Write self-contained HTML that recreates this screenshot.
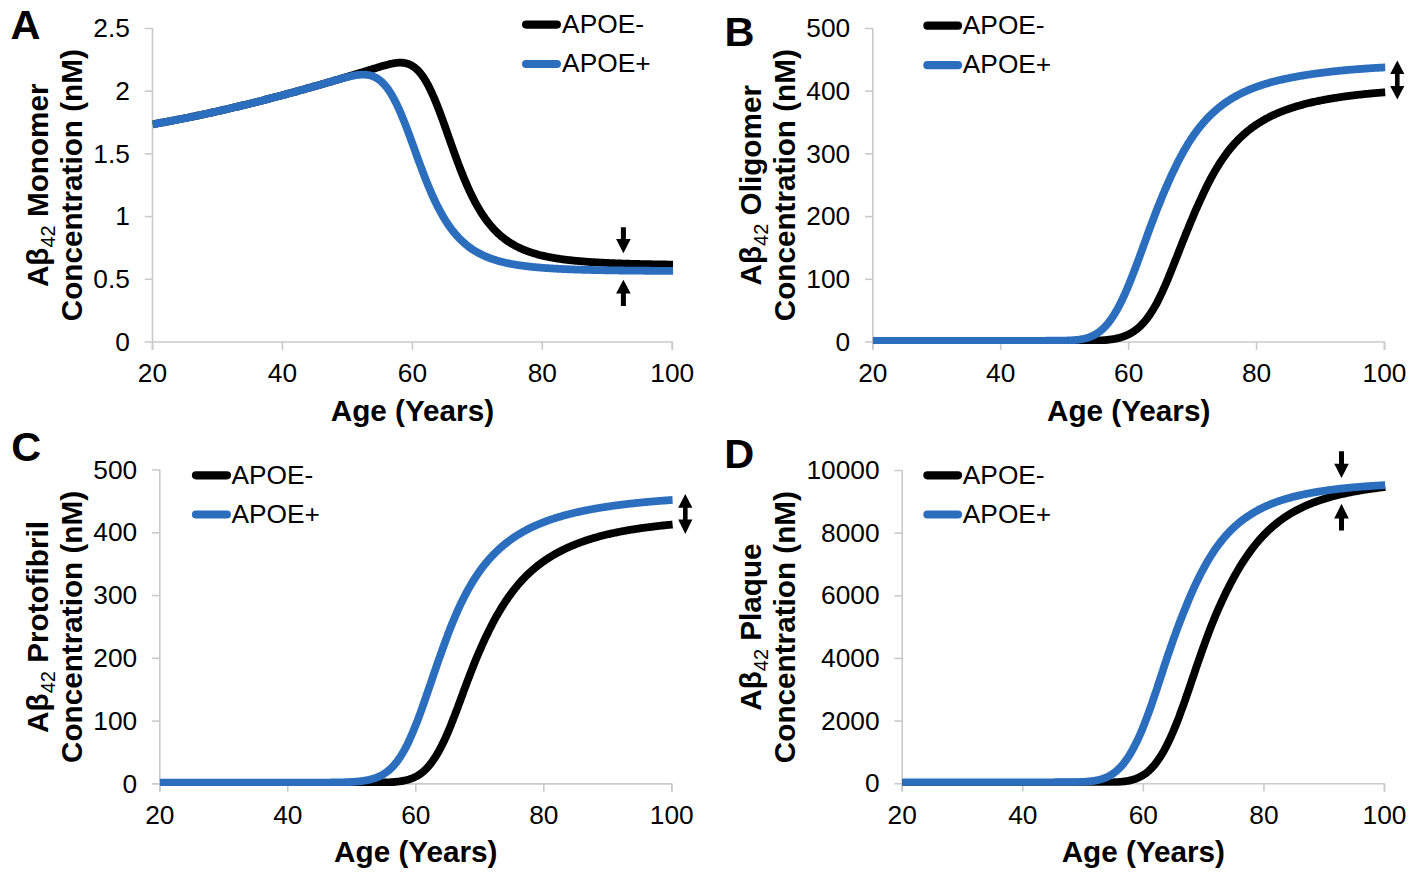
<!DOCTYPE html><html><head><meta charset="utf-8"><style>html,body{margin:0;padding:0;background:#fff;}svg{display:block;}</style></head><body>
<svg width="1417" height="880" viewBox="0 0 1417 880" font-family='"Liberation Sans", sans-serif'>
<rect width="1417" height="880" fill="#fff"/>
<clipPath id="clipA"><rect x="152.50" y="18.50" width="521.00" height="325.50"/></clipPath>
<clipPath id="clipB"><rect x="872.80" y="18.50" width="512.90" height="325.50"/></clipPath>
<clipPath id="clipC"><rect x="159.80" y="460.00" width="513.20" height="325.90"/></clipPath>
<clipPath id="clipD"><rect x="902.20" y="460.50" width="483.50" height="325.20"/></clipPath>
<g stroke="#CACACA" stroke-width="1.6" fill="none" stroke-linejoin="round">
<path d="M144.70,28.50 L152.50,28.50 L152.50,349.80"/>
<path d="M144.70,279.30 L152.50,279.30"/>
<path d="M144.70,216.60 L152.50,216.60"/>
<path d="M144.70,153.90 L152.50,153.90"/>
<path d="M144.70,91.20 L152.50,91.20"/>
<path d="M144.70,342.00 L672.30,342.00"/>
<path d="M152.50,349.80 L152.50,342.00 L152.50,342.00"/>
<path d="M282.45,342.00 L282.45,349.80"/>
<path d="M412.40,342.00 L412.40,349.80"/>
<path d="M542.35,342.00 L542.35,349.80"/>
<path d="M672.30,342.00 L672.30,349.80"/>
<path d="M672.29,342.00 L672.30,342.00 L672.30,349.80"/>
</g>
<g font-size="26.3" fill="#000" text-anchor="end">
<text x="129.90" y="350.60">0</text>
<text x="129.90" y="287.90">0.5</text>
<text x="129.90" y="225.20">1</text>
<text x="129.90" y="162.50">1.5</text>
<text x="129.90" y="99.80">2</text>
<text x="129.90" y="37.10">2.5</text>
</g>
<g font-size="26.3" fill="#000" text-anchor="middle">
<text x="152.50" y="382.00">20</text>
<text x="282.45" y="382.00">40</text>
<text x="412.40" y="382.00">60</text>
<text x="542.35" y="382.00">80</text>
<text x="672.30" y="382.00">100</text>
</g>
<text x="412.40" y="420.50" font-size="29.7" font-weight="bold" text-anchor="middle">Age (Years)</text>
<g clip-path="url(#clipA)" fill="none" stroke-width="7.8" stroke-linejoin="round" stroke-linecap="butt">
<path stroke="#000" d="M152.5,124.30 L153.5,124.13 L154.5,123.95 L155.5,123.78 L156.5,123.60 L157.5,123.42 L158.5,123.24 L159.5,123.06 L160.5,122.88 L161.5,122.70 L162.5,122.52 L163.5,122.34 L164.5,122.15 L165.5,121.97 L166.5,121.78 L167.5,121.60 L168.5,121.41 L169.5,121.22 L170.5,121.03 L171.5,120.84 L172.5,120.65 L173.5,120.46 L174.5,120.27 L175.5,120.07 L176.5,119.88 L177.5,119.69 L178.5,119.49 L179.5,119.29 L180.5,119.10 L181.5,118.90 L182.5,118.70 L183.5,118.50 L184.5,118.30 L185.5,118.10 L186.5,117.90 L187.5,117.70 L188.5,117.49 L189.5,117.29 L190.5,117.08 L191.5,116.88 L192.5,116.67 L193.5,116.46 L194.5,116.25 L195.5,116.05 L196.5,115.84 L197.5,115.63 L198.5,115.41 L199.5,115.20 L200.5,114.99 L201.5,114.78 L202.5,114.56 L203.5,114.35 L204.5,114.13 L205.5,113.91 L206.5,113.70 L207.5,113.48 L208.5,113.26 L209.5,113.04 L210.5,112.82 L211.5,112.60 L212.5,112.38 L213.5,112.16 L214.5,111.93 L215.5,111.71 L216.5,111.48 L217.5,111.26 L218.5,111.03 L219.5,110.81 L220.5,110.58 L221.5,110.35 L222.5,110.12 L223.5,109.89 L224.5,109.66 L225.5,109.43 L226.5,109.20 L227.5,108.97 L228.5,108.73 L229.5,108.50 L230.5,108.27 L231.5,108.03 L232.5,107.80 L233.5,107.56 L234.5,107.32 L235.5,107.08 L236.5,106.85 L237.5,106.61 L238.5,106.37 L239.5,106.13 L240.5,105.88 L241.5,105.64 L242.5,105.40 L243.5,105.16 L244.5,104.91 L245.5,104.67 L246.5,104.42 L247.5,104.18 L248.5,103.93 L249.5,103.68 L250.5,103.44 L251.5,103.19 L252.5,102.94 L253.5,102.69 L254.5,102.44 L255.5,102.19 L256.5,101.94 L257.5,101.68 L258.5,101.43 L259.5,101.18 L260.5,100.92 L261.5,100.67 L262.5,100.41 L263.5,100.16 L264.5,99.90 L265.5,99.64 L266.5,99.39 L267.5,99.13 L268.5,98.87 L269.5,98.61 L270.5,98.35 L271.5,98.09 L272.5,97.83 L273.5,97.57 L274.5,97.30 L275.5,97.04 L276.5,96.78 L277.5,96.51 L278.5,96.25 L279.5,95.98 L280.5,95.72 L281.5,95.45 L282.5,95.18 L283.5,94.91 L284.5,94.65 L285.5,94.38 L286.5,94.11 L287.5,93.84 L288.5,93.57 L289.5,93.30 L290.5,93.03 L291.5,92.75 L292.5,92.48 L293.5,92.21 L294.5,91.93 L295.5,91.66 L296.5,91.38 L297.5,91.11 L298.5,90.83 L299.5,90.56 L300.5,90.28 L301.5,90.00 L302.5,89.72 L303.5,89.45 L304.5,89.17 L305.5,88.89 L306.5,88.61 L307.5,88.33 L308.5,88.04 L309.5,87.76 L310.5,87.48 L311.5,87.20 L312.5,86.91 L313.5,86.63 L314.5,86.35 L315.5,86.06 L316.5,85.78 L317.5,85.49 L318.5,85.21 L319.5,84.92 L320.5,84.63 L321.5,84.34 L322.5,84.06 L323.5,83.77 L324.5,83.48 L325.5,83.19 L326.5,82.90 L327.5,82.61 L328.5,82.32 L329.5,82.03 L330.5,81.74 L331.5,81.44 L332.5,81.15 L333.5,80.86 L334.5,80.56 L335.5,80.27 L336.5,79.97 L337.5,79.68 L338.5,79.38 L339.5,79.09 L340.5,78.79 L341.5,78.50 L342.5,78.20 L343.5,77.90 L344.5,77.60 L345.5,77.30 L346.5,77.01 L347.5,76.71 L348.5,76.41 L349.5,76.11 L350.5,75.81 L351.5,75.51 L352.5,75.20 L353.5,74.90 L354.5,74.60 L355.5,74.30 L356.5,74.00 L357.5,73.69 L358.5,73.39 L359.5,73.08 L360.5,72.78 L361.5,72.47 L362.5,72.17 L363.5,71.86 L364.5,71.56 L365.5,71.25 L366.5,70.94 L367.5,70.64 L368.5,70.33 L369.5,70.02 L370.5,69.71 L371.5,69.41 L372.5,69.10 L373.5,68.79 L374.5,68.48 L375.5,68.17 L376.5,67.86 L377.5,67.56 L378.5,67.25 L379.5,66.95 L380.5,66.64 L381.5,66.35 L382.5,66.05 L383.5,65.76 L384.5,65.47 L385.5,65.19 L386.5,64.92 L387.5,64.66 L388.5,64.40 L389.5,64.16 L390.5,63.92 L391.5,63.71 L392.5,63.50 L393.5,63.32 L394.5,63.15 L395.5,63.00 L396.5,62.88 L397.5,62.78 L398.5,62.71 L399.5,62.66 L400.5,62.65 L401.5,62.68 L402.5,62.74 L403.5,62.84 L404.5,62.99 L405.5,63.18 L406.5,63.41 L407.5,63.70 L408.5,64.05 L409.5,64.45 L410.5,64.90 L411.5,65.43 L412.5,66.01 L413.5,66.67 L414.5,67.40 L415.5,68.19 L416.5,69.07 L417.5,70.02 L418.5,71.05 L419.5,72.16 L420.5,73.36 L421.5,74.63 L422.5,76.00 L423.5,77.45 L424.5,78.98 L425.5,80.60 L426.5,82.30 L427.5,84.09 L428.5,85.96 L429.5,87.92 L430.5,89.95 L431.5,92.07 L432.5,94.26 L433.5,96.52 L434.5,98.85 L435.5,101.24 L436.5,103.70 L437.5,106.22 L438.5,108.79 L439.5,111.41 L440.5,114.08 L441.5,116.78 L442.5,119.52 L443.5,122.29 L444.5,125.09 L445.5,127.91 L446.5,130.74 L447.5,133.58 L448.5,136.43 L449.5,139.27 L450.5,142.12 L451.5,144.96 L452.5,147.78 L453.5,150.59 L454.5,153.37 L455.5,156.14 L456.5,158.87 L457.5,161.58 L458.5,164.25 L459.5,166.88 L460.5,169.48 L461.5,172.04 L462.5,174.55 L463.5,177.02 L464.5,179.44 L465.5,181.82 L466.5,184.15 L467.5,186.43 L468.5,188.66 L469.5,190.84 L470.5,192.96 L471.5,195.04 L472.5,197.07 L473.5,199.04 L474.5,200.97 L475.5,202.84 L476.5,204.67 L477.5,206.44 L478.5,208.17 L479.5,209.85 L480.5,211.48 L481.5,213.07 L482.5,214.61 L483.5,216.10 L484.5,217.55 L485.5,218.96 L486.5,220.32 L487.5,221.64 L488.5,222.93 L489.5,224.17 L490.5,225.38 L491.5,226.55 L492.5,227.68 L493.5,228.78 L494.5,229.84 L495.5,230.87 L496.5,231.87 L497.5,232.84 L498.5,233.77 L499.5,234.68 L500.5,235.56 L501.5,236.41 L502.5,237.23 L503.5,238.03 L504.5,238.80 L505.5,239.55 L506.5,240.27 L507.5,240.97 L508.5,241.65 L509.5,242.31 L510.5,242.95 L511.5,243.57 L512.5,244.16 L513.5,244.74 L514.5,245.30 L515.5,245.85 L516.5,246.37 L517.5,246.88 L518.5,247.38 L519.5,247.86 L520.5,248.32 L521.5,248.77 L522.5,249.21 L523.5,249.63 L524.5,250.04 L525.5,250.44 L526.5,250.83 L527.5,251.20 L528.5,251.57 L529.5,251.92 L530.5,252.26 L531.5,252.59 L532.5,252.91 L533.5,253.23 L534.5,253.53 L535.5,253.82 L536.5,254.11 L537.5,254.39 L538.5,254.65 L539.5,254.92 L540.5,255.17 L541.5,255.42 L542.5,255.66 L543.5,255.89 L544.5,256.12 L545.5,256.34 L546.5,256.55 L547.5,256.76 L548.5,256.96 L549.5,257.16 L550.5,257.35 L551.5,257.53 L552.5,257.71 L553.5,257.89 L554.5,258.06 L555.5,258.23 L556.5,258.39 L557.5,258.55 L558.5,258.70 L559.5,258.85 L560.5,258.99 L561.5,259.14 L562.5,259.27 L563.5,259.41 L564.5,259.54 L565.5,259.67 L566.5,259.79 L567.5,259.91 L568.5,260.03 L569.5,260.14 L570.5,260.25 L571.5,260.36 L572.5,260.47 L573.5,260.57 L574.5,260.67 L575.5,260.77 L576.5,260.87 L577.5,260.96 L578.5,261.05 L579.5,261.14 L580.5,261.23 L581.5,261.32 L582.5,261.40 L583.5,261.48 L584.5,261.56 L585.5,261.63 L586.5,261.71 L587.5,261.78 L588.5,261.86 L589.5,261.93 L590.5,261.99 L591.5,262.06 L592.5,262.13 L593.5,262.19 L594.5,262.25 L595.5,262.31 L596.5,262.37 L597.5,262.43 L598.5,262.49 L599.5,262.54 L600.5,262.60 L601.5,262.65 L602.5,262.70 L603.5,262.75 L604.5,262.80 L605.5,262.85 L606.5,262.90 L607.5,262.94 L608.5,262.99 L609.5,263.03 L610.5,263.08 L611.5,263.12 L612.5,263.16 L613.5,263.20 L614.5,263.24 L615.5,263.28 L616.5,263.32 L617.5,263.36 L618.5,263.39 L619.5,263.43 L620.5,263.47 L621.5,263.50 L622.5,263.53 L623.5,263.57 L624.5,263.60 L625.5,263.63 L626.5,263.66 L627.5,263.69 L628.5,263.72 L629.5,263.75 L630.5,263.78 L631.5,263.81 L632.5,263.84 L633.5,263.86 L634.5,263.89 L635.5,263.92 L636.5,263.94 L637.5,263.97 L638.5,263.99 L639.5,264.01 L640.5,264.04 L641.5,264.06 L642.5,264.08 L643.5,264.11 L644.5,264.13 L645.5,264.15 L646.5,264.17 L647.5,264.19 L648.5,264.21 L649.5,264.23 L650.5,264.25 L651.5,264.27 L652.5,264.29 L653.5,264.31 L654.5,264.32 L655.5,264.34 L656.5,264.36 L657.5,264.38 L658.5,264.39 L659.5,264.41 L660.5,264.43 L661.5,264.44 L662.5,264.46 L663.5,264.47 L664.5,264.49 L665.5,264.50 L666.5,264.52 L667.5,264.53 L668.5,264.54 L669.5,264.56 L670.5,264.57 L671.5,264.59 L672.5,264.60 L673.1,264.61"/>
<path stroke="#2C6EBE" d="M152.5,124.30 L153.5,124.13 L154.5,123.95 L155.5,123.78 L156.5,123.60 L157.5,123.42 L158.5,123.24 L159.5,123.06 L160.5,122.88 L161.5,122.70 L162.5,122.52 L163.5,122.34 L164.5,122.15 L165.5,121.97 L166.5,121.78 L167.5,121.60 L168.5,121.41 L169.5,121.22 L170.5,121.03 L171.5,120.84 L172.5,120.65 L173.5,120.46 L174.5,120.27 L175.5,120.07 L176.5,119.88 L177.5,119.69 L178.5,119.49 L179.5,119.29 L180.5,119.10 L181.5,118.90 L182.5,118.70 L183.5,118.50 L184.5,118.30 L185.5,118.10 L186.5,117.90 L187.5,117.70 L188.5,117.49 L189.5,117.29 L190.5,117.08 L191.5,116.88 L192.5,116.67 L193.5,116.46 L194.5,116.25 L195.5,116.05 L196.5,115.84 L197.5,115.63 L198.5,115.41 L199.5,115.20 L200.5,114.99 L201.5,114.78 L202.5,114.56 L203.5,114.35 L204.5,114.13 L205.5,113.91 L206.5,113.70 L207.5,113.48 L208.5,113.26 L209.5,113.04 L210.5,112.82 L211.5,112.60 L212.5,112.38 L213.5,112.16 L214.5,111.93 L215.5,111.71 L216.5,111.48 L217.5,111.26 L218.5,111.03 L219.5,110.81 L220.5,110.58 L221.5,110.35 L222.5,110.12 L223.5,109.89 L224.5,109.66 L225.5,109.43 L226.5,109.20 L227.5,108.97 L228.5,108.73 L229.5,108.50 L230.5,108.27 L231.5,108.03 L232.5,107.80 L233.5,107.56 L234.5,107.32 L235.5,107.08 L236.5,106.85 L237.5,106.61 L238.5,106.37 L239.5,106.13 L240.5,105.88 L241.5,105.64 L242.5,105.40 L243.5,105.16 L244.5,104.91 L245.5,104.67 L246.5,104.42 L247.5,104.18 L248.5,103.93 L249.5,103.68 L250.5,103.44 L251.5,103.19 L252.5,102.94 L253.5,102.69 L254.5,102.44 L255.5,102.19 L256.5,101.94 L257.5,101.68 L258.5,101.43 L259.5,101.18 L260.5,100.92 L261.5,100.67 L262.5,100.41 L263.5,100.16 L264.5,99.90 L265.5,99.64 L266.5,99.39 L267.5,99.13 L268.5,98.87 L269.5,98.61 L270.5,98.35 L271.5,98.09 L272.5,97.83 L273.5,97.57 L274.5,97.30 L275.5,97.04 L276.5,96.78 L277.5,96.51 L278.5,96.25 L279.5,95.98 L280.5,95.72 L281.5,95.45 L282.5,95.18 L283.5,94.91 L284.5,94.65 L285.5,94.38 L286.5,94.11 L287.5,93.84 L288.5,93.57 L289.5,93.30 L290.5,93.03 L291.5,92.75 L292.5,92.48 L293.5,92.21 L294.5,91.93 L295.5,91.66 L296.5,91.38 L297.5,91.11 L298.5,90.83 L299.5,90.56 L300.5,90.28 L301.5,90.00 L302.5,89.72 L303.5,89.45 L304.5,89.17 L305.5,88.89 L306.5,88.61 L307.5,88.33 L308.5,88.04 L309.5,87.76 L310.5,87.48 L311.5,87.20 L312.5,86.91 L313.5,86.63 L314.5,86.35 L315.5,86.06 L316.5,85.78 L317.5,85.49 L318.5,85.21 L319.5,84.92 L320.5,84.63 L321.5,84.34 L322.5,84.06 L323.5,83.77 L324.5,83.48 L325.5,83.19 L326.5,82.90 L327.5,82.61 L328.5,82.32 L329.5,82.03 L330.5,81.74 L331.5,81.45 L332.5,81.16 L333.5,80.87 L334.5,80.58 L335.5,80.29 L336.5,80.00 L337.5,79.71 L338.5,79.43 L339.5,79.14 L340.5,78.86 L341.5,78.58 L342.5,78.30 L343.5,78.03 L344.5,77.76 L345.5,77.50 L346.5,77.24 L347.5,76.98 L348.5,76.74 L349.5,76.50 L350.5,76.27 L351.5,76.05 L352.5,75.84 L353.5,75.64 L354.5,75.45 L355.5,75.28 L356.5,75.12 L357.5,74.98 L358.5,74.86 L359.5,74.76 L360.5,74.68 L361.5,74.62 L362.5,74.59 L363.5,74.59 L364.5,74.61 L365.5,74.67 L366.5,74.76 L367.5,74.88 L368.5,75.05 L369.5,75.25 L370.5,75.50 L371.5,75.79 L372.5,76.13 L373.5,76.51 L374.5,76.96 L375.5,77.45 L376.5,78.00 L377.5,78.62 L378.5,79.29 L379.5,80.03 L380.5,80.84 L381.5,81.71 L382.5,82.65 L383.5,83.67 L384.5,84.76 L385.5,85.93 L386.5,87.17 L387.5,88.49 L388.5,89.89 L389.5,91.36 L390.5,92.92 L391.5,94.55 L392.5,96.27 L393.5,98.06 L394.5,99.93 L395.5,101.87 L396.5,103.89 L397.5,105.98 L398.5,108.13 L399.5,110.36 L400.5,112.65 L401.5,115.00 L402.5,117.41 L403.5,119.87 L404.5,122.38 L405.5,124.94 L406.5,127.54 L407.5,130.18 L408.5,132.84 L409.5,135.54 L410.5,138.26 L411.5,141.00 L412.5,143.75 L413.5,146.52 L414.5,149.28 L415.5,152.05 L416.5,154.82 L417.5,157.57 L418.5,160.32 L419.5,163.04 L420.5,165.75 L421.5,168.43 L422.5,171.09 L423.5,173.72 L424.5,176.31 L425.5,178.87 L426.5,181.40 L427.5,183.88 L428.5,186.32 L429.5,188.71 L430.5,191.07 L431.5,193.37 L432.5,195.63 L433.5,197.84 L434.5,200.00 L435.5,202.11 L436.5,204.17 L437.5,206.18 L438.5,208.14 L439.5,210.05 L440.5,211.91 L441.5,213.72 L442.5,215.49 L443.5,217.20 L444.5,218.86 L445.5,220.48 L446.5,222.05 L447.5,223.57 L448.5,225.05 L449.5,226.48 L450.5,227.87 L451.5,229.22 L452.5,230.53 L453.5,231.79 L454.5,233.02 L455.5,234.20 L456.5,235.35 L457.5,236.46 L458.5,237.54 L459.5,238.58 L460.5,239.59 L461.5,240.57 L462.5,241.51 L463.5,242.42 L464.5,243.30 L465.5,244.16 L466.5,244.98 L467.5,245.78 L468.5,246.55 L469.5,247.30 L470.5,248.02 L471.5,248.72 L472.5,249.39 L473.5,250.04 L474.5,250.68 L475.5,251.29 L476.5,251.88 L477.5,252.45 L478.5,253.00 L479.5,253.53 L480.5,254.05 L481.5,254.55 L482.5,255.03 L483.5,255.50 L484.5,255.95 L485.5,256.39 L486.5,256.81 L487.5,257.22 L488.5,257.61 L489.5,258.00 L490.5,258.37 L491.5,258.73 L492.5,259.08 L493.5,259.41 L494.5,259.74 L495.5,260.05 L496.5,260.36 L497.5,260.66 L498.5,260.94 L499.5,261.22 L500.5,261.49 L501.5,261.75 L502.5,262.00 L503.5,262.25 L504.5,262.48 L505.5,262.71 L506.5,262.94 L507.5,263.15 L508.5,263.36 L509.5,263.57 L510.5,263.76 L511.5,263.96 L512.5,264.14 L513.5,264.32 L514.5,264.50 L515.5,264.67 L516.5,264.83 L517.5,264.99 L518.5,265.15 L519.5,265.30 L520.5,265.44 L521.5,265.58 L522.5,265.72 L523.5,265.86 L524.5,265.99 L525.5,266.11 L526.5,266.24 L527.5,266.36 L528.5,266.47 L529.5,266.58 L530.5,266.69 L531.5,266.80 L532.5,266.91 L533.5,267.01 L534.5,267.10 L535.5,267.20 L536.5,267.29 L537.5,267.38 L538.5,267.47 L539.5,267.56 L540.5,267.64 L541.5,267.72 L542.5,267.80 L543.5,267.88 L544.5,267.95 L545.5,268.02 L546.5,268.09 L547.5,268.16 L548.5,268.23 L549.5,268.30 L550.5,268.36 L551.5,268.42 L552.5,268.48 L553.5,268.54 L554.5,268.60 L555.5,268.66 L556.5,268.71 L557.5,268.76 L558.5,268.82 L559.5,268.87 L560.5,268.92 L561.5,268.96 L562.5,269.01 L563.5,269.06 L564.5,269.10 L565.5,269.14 L566.5,269.19 L567.5,269.23 L568.5,269.27 L569.5,269.31 L570.5,269.35 L571.5,269.39 L572.5,269.42 L573.5,269.46 L574.5,269.49 L575.5,269.53 L576.5,269.56 L577.5,269.59 L578.5,269.63 L579.5,269.66 L580.5,269.69 L581.5,269.72 L582.5,269.75 L583.5,269.78 L584.5,269.80 L585.5,269.83 L586.5,269.86 L587.5,269.88 L588.5,269.91 L589.5,269.93 L590.5,269.96 L591.5,269.98 L592.5,270.00 L593.5,270.03 L594.5,270.05 L595.5,270.07 L596.5,270.09 L597.5,270.11 L598.5,270.13 L599.5,270.15 L600.5,270.17 L601.5,270.19 L602.5,270.21 L603.5,270.23 L604.5,270.25 L605.5,270.26 L606.5,270.28 L607.5,270.30 L608.5,270.32 L609.5,270.33 L610.5,270.35 L611.5,270.36 L612.5,270.38 L613.5,270.39 L614.5,270.41 L615.5,270.42 L616.5,270.44 L617.5,270.45 L618.5,270.46 L619.5,270.48 L620.5,270.49 L621.5,270.50 L622.5,270.51 L623.5,270.53 L624.5,270.54 L625.5,270.55 L626.5,270.56 L627.5,270.57 L628.5,270.58 L629.5,270.59 L630.5,270.60 L631.5,270.61 L632.5,270.62 L633.5,270.63 L634.5,270.64 L635.5,270.65 L636.5,270.66 L637.5,270.67 L638.5,270.68 L639.5,270.69 L640.5,270.70 L641.5,270.71 L642.5,270.72 L643.5,270.72 L644.5,270.73 L645.5,270.74 L646.5,270.75 L647.5,270.75 L648.5,270.76 L649.5,270.77 L650.5,270.78 L651.5,270.78 L652.5,270.79 L653.5,270.80 L654.5,270.80 L655.5,270.81 L656.5,270.82 L657.5,270.82 L658.5,270.83 L659.5,270.84 L660.5,270.84 L661.5,270.85 L662.5,270.85 L663.5,270.86 L664.5,270.87 L665.5,270.87 L666.5,270.88 L667.5,270.88 L668.5,270.89 L669.5,270.89 L670.5,270.90 L671.5,270.90 L672.5,270.91 L673.1,270.91"/>
</g>
<g stroke="#CACACA" stroke-width="1.6" fill="none" stroke-linejoin="round">
<path d="M865.00,28.50 L872.80,28.50 L872.80,349.80"/>
<path d="M865.00,279.30 L872.80,279.30"/>
<path d="M865.00,216.60 L872.80,216.60"/>
<path d="M865.00,153.90 L872.80,153.90"/>
<path d="M865.00,91.20 L872.80,91.20"/>
<path d="M865.00,342.00 L1384.50,342.00"/>
<path d="M872.80,349.80 L872.80,342.00 L872.80,342.00"/>
<path d="M1000.72,342.00 L1000.72,349.80"/>
<path d="M1128.65,342.00 L1128.65,349.80"/>
<path d="M1256.58,342.00 L1256.58,349.80"/>
<path d="M1384.50,342.00 L1384.50,349.80"/>
<path d="M1384.49,342.00 L1384.50,342.00 L1384.50,349.80"/>
</g>
<g font-size="26.3" fill="#000" text-anchor="end">
<text x="850.20" y="350.60">0</text>
<text x="850.20" y="287.90">100</text>
<text x="850.20" y="225.20">200</text>
<text x="850.20" y="162.50">300</text>
<text x="850.20" y="99.80">400</text>
<text x="850.20" y="37.10">500</text>
</g>
<g font-size="26.3" fill="#000" text-anchor="middle">
<text x="872.80" y="382.00">20</text>
<text x="1000.72" y="382.00">40</text>
<text x="1128.65" y="382.00">60</text>
<text x="1256.58" y="382.00">80</text>
<text x="1384.50" y="382.00">100</text>
</g>
<text x="1128.65" y="420.50" font-size="29.7" font-weight="bold" text-anchor="middle">Age (Years)</text>
<g clip-path="url(#clipB)" fill="none" stroke-width="7.8" stroke-linejoin="round" stroke-linecap="butt">
<path stroke="#000" d="M872.8,341.30 L873.8,341.30 L874.8,341.30 L875.8,341.30 L876.8,341.30 L877.8,341.30 L878.8,341.30 L879.8,341.30 L880.8,341.30 L881.8,341.30 L882.8,341.30 L883.8,341.30 L884.8,341.30 L885.8,341.30 L886.8,341.30 L887.8,341.30 L888.8,341.30 L889.8,341.30 L890.8,341.30 L891.8,341.30 L892.8,341.30 L893.8,341.30 L894.8,341.30 L895.8,341.30 L896.8,341.30 L897.8,341.30 L898.8,341.30 L899.8,341.30 L900.8,341.30 L901.8,341.30 L902.8,341.30 L903.8,341.30 L904.8,341.30 L905.8,341.30 L906.8,341.30 L907.8,341.30 L908.8,341.30 L909.8,341.30 L910.8,341.30 L911.8,341.30 L912.8,341.30 L913.8,341.30 L914.8,341.30 L915.8,341.30 L916.8,341.30 L917.8,341.30 L918.8,341.30 L919.8,341.30 L920.8,341.30 L921.8,341.30 L922.8,341.30 L923.8,341.30 L924.8,341.30 L925.8,341.30 L926.8,341.30 L927.8,341.30 L928.8,341.30 L929.8,341.30 L930.8,341.30 L931.8,341.30 L932.8,341.30 L933.8,341.30 L934.8,341.30 L935.8,341.30 L936.8,341.30 L937.8,341.30 L938.8,341.30 L939.8,341.30 L940.8,341.30 L941.8,341.30 L942.8,341.30 L943.8,341.30 L944.8,341.30 L945.8,341.30 L946.8,341.30 L947.8,341.30 L948.8,341.30 L949.8,341.30 L950.8,341.30 L951.8,341.30 L952.8,341.30 L953.8,341.30 L954.8,341.30 L955.8,341.30 L956.8,341.30 L957.8,341.30 L958.8,341.30 L959.8,341.30 L960.8,341.30 L961.8,341.30 L962.8,341.30 L963.8,341.30 L964.8,341.30 L965.8,341.30 L966.8,341.30 L967.8,341.30 L968.8,341.30 L969.8,341.30 L970.8,341.30 L971.8,341.30 L972.8,341.30 L973.8,341.30 L974.8,341.30 L975.8,341.30 L976.8,341.30 L977.8,341.30 L978.8,341.30 L979.8,341.30 L980.8,341.30 L981.8,341.30 L982.8,341.30 L983.8,341.30 L984.8,341.30 L985.8,341.30 L986.8,341.30 L987.8,341.30 L988.8,341.30 L989.8,341.30 L990.8,341.30 L991.8,341.30 L992.8,341.30 L993.8,341.30 L994.8,341.29 L995.8,341.29 L996.8,341.29 L997.8,341.29 L998.8,341.29 L999.8,341.29 L1000.8,341.29 L1001.8,341.29 L1002.8,341.29 L1003.8,341.29 L1004.8,341.29 L1005.8,341.29 L1006.8,341.29 L1007.8,341.29 L1008.8,341.29 L1009.8,341.29 L1010.8,341.29 L1011.8,341.29 L1012.8,341.28 L1013.8,341.28 L1014.8,341.28 L1015.8,341.28 L1016.8,341.28 L1017.8,341.28 L1018.8,341.28 L1019.8,341.28 L1020.8,341.28 L1021.8,341.28 L1022.8,341.28 L1023.8,341.27 L1024.8,341.27 L1025.8,341.27 L1026.8,341.27 L1027.8,341.27 L1028.8,341.27 L1029.8,341.27 L1030.8,341.26 L1031.8,341.26 L1032.8,341.26 L1033.8,341.26 L1034.8,341.26 L1035.8,341.26 L1036.8,341.26 L1037.8,341.25 L1038.8,341.25 L1039.8,341.25 L1040.8,341.25 L1041.8,341.25 L1042.8,341.24 L1043.8,341.24 L1044.8,341.24 L1045.8,341.24 L1046.8,341.24 L1047.8,341.23 L1048.8,341.23 L1049.8,341.23 L1050.8,341.23 L1051.8,341.23 L1052.8,341.22 L1053.8,341.22 L1054.8,341.22 L1055.8,341.22 L1056.8,341.21 L1057.8,341.21 L1058.8,341.21 L1059.8,341.20 L1060.8,341.20 L1061.8,341.20 L1062.8,341.19 L1063.8,341.19 L1064.8,341.19 L1065.8,341.18 L1066.8,341.18 L1067.8,341.17 L1068.8,341.17 L1069.8,341.16 L1070.8,341.16 L1071.8,341.15 L1072.8,341.14 L1073.8,341.14 L1074.8,341.13 L1075.8,341.12 L1076.8,341.11 L1077.8,341.10 L1078.8,341.09 L1079.8,341.08 L1080.8,341.07 L1081.8,341.06 L1082.8,341.04 L1083.8,341.03 L1084.8,341.01 L1085.8,341.00 L1086.8,340.98 L1087.8,340.96 L1088.8,340.93 L1089.8,340.91 L1090.8,340.88 L1091.8,340.85 L1092.8,340.82 L1093.8,340.79 L1094.8,340.75 L1095.8,340.71 L1096.8,340.66 L1097.8,340.62 L1098.8,340.56 L1099.8,340.51 L1100.8,340.45 L1101.8,340.38 L1102.8,340.31 L1103.8,340.23 L1104.8,340.14 L1105.8,340.05 L1106.8,339.95 L1107.8,339.84 L1108.8,339.73 L1109.8,339.60 L1110.8,339.47 L1111.8,339.32 L1112.8,339.16 L1113.8,338.99 L1114.8,338.81 L1115.8,338.61 L1116.8,338.40 L1117.8,338.17 L1118.8,337.92 L1119.8,337.66 L1120.8,337.38 L1121.8,337.07 L1122.8,336.75 L1123.8,336.40 L1124.8,336.03 L1125.8,335.63 L1126.8,335.21 L1127.8,334.76 L1128.8,334.27 L1129.8,333.76 L1130.8,333.22 L1131.8,332.64 L1132.8,332.02 L1133.8,331.37 L1134.8,330.67 L1135.8,329.94 L1136.8,329.17 L1137.8,328.35 L1138.8,327.49 L1139.8,326.58 L1140.8,325.62 L1141.8,324.61 L1142.8,323.56 L1143.8,322.45 L1144.8,321.29 L1145.8,320.07 L1146.8,318.80 L1147.8,317.48 L1148.8,316.10 L1149.8,314.66 L1150.8,313.17 L1151.8,311.62 L1152.8,310.01 L1153.8,308.35 L1154.8,306.63 L1155.8,304.85 L1156.8,303.02 L1157.8,301.13 L1158.7,299.19 L1159.7,297.20 L1160.7,295.15 L1161.7,293.06 L1162.7,290.92 L1163.7,288.73 L1164.7,286.50 L1165.7,284.23 L1166.7,281.91 L1167.7,279.56 L1168.6,277.18 L1169.6,274.76 L1170.6,272.32 L1171.6,269.84 L1172.6,267.35 L1173.6,264.83 L1174.6,262.30 L1175.6,259.75 L1176.7,257.18 L1177.7,254.61 L1178.7,252.03 L1179.7,249.45 L1180.7,246.87 L1181.7,244.29 L1182.7,241.71 L1183.8,239.14 L1184.8,236.58 L1185.8,234.02 L1186.8,231.49 L1187.9,228.97 L1188.9,226.46 L1189.9,223.97 L1190.9,221.51 L1192.0,219.07 L1193.0,216.65 L1194.0,214.25 L1195.0,211.89 L1196.0,209.55 L1197.1,207.24 L1198.1,204.95 L1199.1,202.70 L1200.1,200.48 L1201.1,198.29 L1202.1,196.13 L1203.1,194.00 L1204.1,191.91 L1205.1,189.85 L1206.1,187.83 L1207.0,185.84 L1208.0,183.88 L1209.0,181.96 L1210.0,180.07 L1211.0,178.21 L1212.0,176.40 L1212.9,174.61 L1213.9,172.86 L1214.9,171.14 L1215.9,169.46 L1216.9,167.81 L1217.9,166.20 L1218.8,164.62 L1219.8,163.07 L1220.8,161.55 L1221.8,160.07 L1222.8,158.61 L1223.8,157.19 L1224.8,155.80 L1225.8,154.44 L1226.8,153.11 L1227.7,151.80 L1228.7,150.53 L1229.7,149.28 L1230.7,148.07 L1231.7,146.88 L1232.7,145.71 L1233.7,144.57 L1234.7,143.46 L1235.7,142.37 L1236.7,141.31 L1237.7,140.27 L1238.7,139.25 L1239.7,138.26 L1240.7,137.29 L1241.7,136.34 L1242.7,135.41 L1243.7,134.50 L1244.7,133.62 L1245.7,132.75 L1246.7,131.90 L1247.7,131.08 L1248.7,130.27 L1249.7,129.47 L1250.7,128.70 L1251.7,127.94 L1252.7,127.20 L1253.7,126.48 L1254.7,125.77 L1255.7,125.08 L1256.8,124.40 L1257.8,123.74 L1258.8,123.09 L1259.8,122.46 L1260.8,121.84 L1261.8,121.23 L1262.8,120.64 L1263.8,120.06 L1264.8,119.49 L1265.8,118.94 L1266.8,118.39 L1267.8,117.86 L1268.8,117.34 L1269.8,116.83 L1270.8,116.33 L1271.8,115.84 L1272.8,115.36 L1273.8,114.89 L1274.8,114.43 L1275.8,113.97 L1276.8,113.53 L1277.8,113.10 L1278.8,112.68 L1279.8,112.26 L1280.8,111.85 L1281.8,111.45 L1282.8,111.06 L1283.8,110.68 L1284.8,110.30 L1285.8,109.93 L1286.8,109.57 L1287.8,109.21 L1288.8,108.87 L1289.8,108.52 L1290.8,108.19 L1291.8,107.86 L1292.8,107.53 L1293.8,107.22 L1294.8,106.91 L1295.8,106.60 L1296.8,106.30 L1297.8,106.00 L1298.8,105.71 L1299.8,105.43 L1300.8,105.15 L1301.8,104.88 L1302.8,104.61 L1303.8,104.34 L1304.8,104.08 L1305.8,103.82 L1306.8,103.57 L1307.8,103.32 L1308.8,103.08 L1309.8,102.84 L1310.8,102.61 L1311.8,102.37 L1312.8,102.15 L1313.8,101.92 L1314.8,101.70 L1315.8,101.49 L1316.8,101.27 L1317.8,101.06 L1318.8,100.86 L1319.8,100.65 L1320.8,100.45 L1321.8,100.26 L1322.8,100.06 L1323.8,99.87 L1324.8,99.69 L1325.8,99.50 L1326.8,99.32 L1327.8,99.14 L1328.8,98.96 L1329.8,98.79 L1330.8,98.62 L1331.8,98.45 L1332.8,98.29 L1333.8,98.12 L1334.8,97.96 L1335.8,97.80 L1336.8,97.65 L1337.8,97.49 L1338.8,97.34 L1339.8,97.19 L1340.8,97.05 L1341.8,96.90 L1342.8,96.76 L1343.8,96.62 L1344.8,96.48 L1345.8,96.34 L1346.8,96.21 L1347.8,96.08 L1348.8,95.95 L1349.8,95.82 L1350.8,95.69 L1351.8,95.57 L1352.8,95.44 L1353.8,95.32 L1354.8,95.20 L1355.8,95.08 L1356.8,94.97 L1357.8,94.85 L1358.8,94.74 L1359.8,94.63 L1360.8,94.52 L1361.8,94.41 L1362.8,94.30 L1363.8,94.20 L1364.8,94.09 L1365.8,93.99 L1366.8,93.89 L1367.8,93.79 L1368.8,93.69 L1369.8,93.60 L1370.8,93.50 L1371.8,93.41 L1372.8,93.31 L1373.8,93.22 L1374.8,93.13 L1375.8,93.04 L1376.8,92.95 L1377.8,92.87 L1378.8,92.78 L1379.8,92.70 L1380.8,92.62 L1381.8,92.53 L1382.8,92.45 L1383.8,92.37 L1384.8,92.29 L1385.3,92.25"/>
<path stroke="#2C6EBE" d="M872.8,341.00 L873.8,341.00 L874.8,341.00 L875.8,341.00 L876.8,341.00 L877.8,341.00 L878.8,341.00 L879.8,341.00 L880.8,341.00 L881.8,341.00 L882.8,341.00 L883.8,341.00 L884.8,341.00 L885.8,341.00 L886.8,341.00 L887.8,341.00 L888.8,341.00 L889.8,341.00 L890.8,341.00 L891.8,341.00 L892.8,341.00 L893.8,341.00 L894.8,341.00 L895.8,341.00 L896.8,341.00 L897.8,341.00 L898.8,341.00 L899.8,341.00 L900.8,341.00 L901.8,341.00 L902.8,341.00 L903.8,341.00 L904.8,341.00 L905.8,341.00 L906.8,341.00 L907.8,341.00 L908.8,341.00 L909.8,341.00 L910.8,341.00 L911.8,341.00 L912.8,341.00 L913.8,341.00 L914.8,341.00 L915.8,341.00 L916.8,341.00 L917.8,341.00 L918.8,341.00 L919.8,341.00 L920.8,341.00 L921.8,341.00 L922.8,341.00 L923.8,341.00 L924.8,341.00 L925.8,341.00 L926.8,341.00 L927.8,341.00 L928.8,341.00 L929.8,341.00 L930.8,340.99 L931.8,340.99 L932.8,340.99 L933.8,340.99 L934.8,340.99 L935.8,340.99 L936.8,340.99 L937.8,340.99 L938.8,340.99 L939.8,340.99 L940.8,340.99 L941.8,340.99 L942.8,340.99 L943.8,340.99 L944.8,340.99 L945.8,340.99 L946.8,340.99 L947.8,340.99 L948.8,340.98 L949.8,340.98 L950.8,340.98 L951.8,340.98 L952.8,340.98 L953.8,340.98 L954.8,340.98 L955.8,340.98 L956.8,340.98 L957.8,340.97 L958.8,340.97 L959.8,340.97 L960.8,340.97 L961.8,340.97 L962.8,340.97 L963.8,340.97 L964.8,340.96 L965.8,340.96 L966.8,340.96 L967.8,340.96 L968.8,340.96 L969.8,340.95 L970.8,340.95 L971.8,340.95 L972.8,340.95 L973.8,340.95 L974.8,340.94 L975.8,340.94 L976.8,340.94 L977.8,340.94 L978.8,340.93 L979.8,340.93 L980.8,340.93 L981.8,340.93 L982.8,340.92 L983.8,340.92 L984.8,340.92 L985.8,340.91 L986.8,340.91 L987.8,340.91 L988.8,340.91 L989.8,340.90 L990.8,340.90 L991.8,340.90 L992.8,340.89 L993.8,340.89 L994.8,340.89 L995.8,340.88 L996.8,340.88 L997.8,340.88 L998.8,340.87 L999.8,340.87 L1000.8,340.87 L1001.8,340.86 L1002.8,340.86 L1003.8,340.86 L1004.8,340.86 L1005.8,340.85 L1006.8,340.85 L1007.8,340.85 L1008.8,340.84 L1009.8,340.84 L1010.8,340.84 L1011.8,340.83 L1012.8,340.83 L1013.8,340.83 L1014.8,340.83 L1015.8,340.82 L1016.8,340.82 L1017.8,340.82 L1018.8,340.81 L1019.8,340.81 L1020.8,340.81 L1021.8,340.81 L1022.8,340.81 L1023.8,340.80 L1024.8,340.80 L1025.8,340.80 L1026.8,340.80 L1027.8,340.80 L1028.8,340.79 L1029.8,340.79 L1030.8,340.79 L1031.8,340.79 L1032.8,340.79 L1033.8,340.79 L1034.8,340.79 L1035.8,340.79 L1036.8,340.78 L1037.8,340.78 L1038.8,340.78 L1039.8,340.78 L1040.8,340.78 L1041.8,340.78 L1042.8,340.78 L1043.8,340.78 L1044.8,340.78 L1045.8,340.77 L1046.8,340.77 L1047.8,340.77 L1048.8,340.77 L1049.8,340.77 L1050.8,340.76 L1051.8,340.76 L1052.8,340.76 L1053.8,340.75 L1054.8,340.75 L1055.8,340.74 L1056.8,340.73 L1057.8,340.72 L1058.8,340.71 L1059.8,340.70 L1060.8,340.69 L1061.8,340.67 L1062.8,340.65 L1063.8,340.63 L1064.8,340.60 L1065.8,340.58 L1066.8,340.54 L1067.8,340.51 L1068.8,340.47 L1069.8,340.42 L1070.8,340.37 L1071.8,340.31 L1072.8,340.24 L1073.8,340.16 L1074.8,340.08 L1075.8,339.98 L1076.8,339.88 L1077.8,339.76 L1078.8,339.63 L1079.8,339.49 L1080.8,339.33 L1081.8,339.15 L1082.8,338.96 L1083.8,338.75 L1084.8,338.51 L1085.8,338.26 L1086.8,337.98 L1087.8,337.67 L1088.8,337.34 L1089.8,336.98 L1090.8,336.59 L1091.8,336.16 L1092.8,335.71 L1093.8,335.21 L1094.8,334.68 L1095.8,334.11 L1096.8,333.50 L1097.8,332.84 L1098.8,332.14 L1099.8,331.39 L1100.8,330.59 L1101.8,329.74 L1102.8,328.84 L1103.8,327.89 L1104.8,326.88 L1105.8,325.81 L1106.8,324.69 L1107.8,323.51 L1108.8,322.27 L1109.8,320.96 L1110.8,319.60 L1111.8,318.17 L1112.8,316.68 L1113.8,315.13 L1114.8,313.52 L1115.8,311.84 L1116.8,310.10 L1117.8,308.30 L1118.8,306.44 L1119.8,304.51 L1120.8,302.53 L1121.8,300.49 L1122.8,298.39 L1123.8,296.24 L1124.8,294.03 L1125.8,291.78 L1126.8,289.47 L1127.8,287.11 L1128.8,284.71 L1129.8,282.27 L1130.8,279.78 L1131.8,277.26 L1132.8,274.70 L1133.8,272.11 L1134.8,269.49 L1135.8,266.84 L1136.8,264.16 L1137.8,261.47 L1138.8,258.76 L1139.8,256.03 L1140.8,253.28 L1141.8,250.53 L1142.8,247.77 L1143.8,245.00 L1144.8,242.23 L1145.8,239.47 L1146.8,236.70 L1147.8,233.94 L1148.8,231.19 L1149.8,228.45 L1150.8,225.72 L1151.8,223.01 L1152.9,220.31 L1153.9,217.63 L1154.9,214.97 L1155.9,212.33 L1156.9,209.72 L1157.9,207.13 L1159.0,204.56 L1160.0,202.02 L1161.0,199.51 L1162.0,197.03 L1163.0,194.58 L1164.0,192.16 L1165.0,189.77 L1166.1,187.42 L1167.1,185.09 L1168.1,182.80 L1169.1,180.55 L1170.1,178.32 L1171.1,176.13 L1172.1,173.98 L1173.1,171.85 L1174.1,169.77 L1175.1,167.71 L1176.1,165.70 L1177.0,163.71 L1178.0,161.76 L1179.0,159.85 L1180.0,157.97 L1181.0,156.12 L1182.0,154.31 L1182.9,152.53 L1183.9,150.78 L1184.9,149.07 L1185.9,147.39 L1186.9,145.74 L1187.8,144.13 L1188.8,142.54 L1189.8,140.99 L1190.8,139.47 L1191.8,137.98 L1192.8,136.53 L1193.7,135.10 L1194.7,133.70 L1195.7,132.33 L1196.7,130.99 L1197.7,129.68 L1198.7,128.39 L1199.7,127.13 L1200.7,125.90 L1201.7,124.70 L1202.7,123.52 L1203.7,122.37 L1204.7,121.24 L1205.6,120.14 L1206.6,119.06 L1207.6,118.00 L1208.6,116.97 L1209.6,115.96 L1210.6,114.97 L1211.6,114.01 L1212.6,113.06 L1213.6,112.14 L1214.7,111.23 L1215.7,110.35 L1216.7,109.49 L1217.7,108.64 L1218.7,107.82 L1219.7,107.01 L1220.7,106.22 L1221.7,105.44 L1222.7,104.69 L1223.7,103.95 L1224.7,103.23 L1225.7,102.52 L1226.7,101.83 L1227.7,101.15 L1228.7,100.49 L1229.7,99.84 L1230.7,99.21 L1231.7,98.59 L1232.7,97.99 L1233.7,97.39 L1234.8,96.81 L1235.8,96.25 L1236.8,95.69 L1237.8,95.15 L1238.8,94.62 L1239.8,94.10 L1240.8,93.59 L1241.8,93.09 L1242.8,92.60 L1243.8,92.13 L1244.8,91.66 L1245.8,91.20 L1246.8,90.76 L1247.8,90.32 L1248.8,89.89 L1249.8,89.47 L1250.8,89.06 L1251.8,88.65 L1252.8,88.26 L1253.8,87.87 L1254.8,87.49 L1255.9,87.12 L1256.9,86.76 L1257.9,86.40 L1258.9,86.05 L1259.9,85.71 L1260.9,85.37 L1261.9,85.04 L1262.9,84.72 L1263.9,84.40 L1264.9,84.09 L1265.9,83.79 L1266.9,83.49 L1267.9,83.19 L1268.9,82.91 L1269.9,82.62 L1270.9,82.34 L1271.9,82.07 L1272.9,81.80 L1273.9,81.54 L1274.9,81.28 L1275.9,81.03 L1276.9,80.78 L1277.9,80.53 L1278.9,80.29 L1279.9,80.06 L1280.9,79.82 L1281.9,79.59 L1282.9,79.37 L1283.9,79.15 L1284.9,78.93 L1285.9,78.71 L1286.9,78.50 L1287.9,78.29 L1288.9,78.09 L1289.9,77.89 L1290.9,77.69 L1291.9,77.50 L1292.9,77.30 L1293.9,77.11 L1294.9,76.93 L1295.9,76.74 L1296.9,76.56 L1297.9,76.38 L1298.9,76.21 L1299.9,76.03 L1300.9,75.86 L1301.9,75.69 L1302.9,75.53 L1303.9,75.36 L1304.9,75.20 L1305.8,75.04 L1306.8,74.89 L1307.8,74.73 L1308.8,74.58 L1309.8,74.43 L1310.8,74.28 L1311.8,74.13 L1312.8,73.99 L1313.8,73.84 L1314.8,73.70 L1315.8,73.56 L1316.8,73.43 L1317.8,73.29 L1318.8,73.16 L1319.8,73.03 L1320.8,72.90 L1321.8,72.77 L1322.8,72.64 L1323.8,72.52 L1324.8,72.39 L1325.8,72.27 L1326.8,72.15 L1327.8,72.03 L1328.8,71.92 L1329.8,71.80 L1330.8,71.69 L1331.8,71.57 L1332.8,71.46 L1333.8,71.35 L1334.8,71.25 L1335.8,71.14 L1336.8,71.04 L1337.8,70.93 L1338.8,70.83 L1339.8,70.73 L1340.8,70.63 L1341.8,70.53 L1342.8,70.44 L1343.8,70.34 L1344.8,70.25 L1345.8,70.15 L1346.8,70.06 L1347.8,69.97 L1348.8,69.88 L1349.8,69.80 L1350.8,69.71 L1351.8,69.63 L1352.8,69.54 L1353.8,69.46 L1354.8,69.38 L1355.8,69.30 L1356.8,69.22 L1357.8,69.14 L1358.8,69.06 L1359.8,68.99 L1360.8,68.91 L1361.8,68.84 L1362.8,68.77 L1363.8,68.70 L1364.8,68.63 L1365.8,68.56 L1366.8,68.49 L1367.8,68.42 L1368.8,68.36 L1369.8,68.29 L1370.8,68.23 L1371.8,68.17 L1372.8,68.10 L1373.8,68.04 L1374.8,67.98 L1375.8,67.92 L1376.8,67.87 L1377.8,67.81 L1378.8,67.75 L1379.8,67.70 L1380.8,67.64 L1381.8,67.59 L1382.8,67.54 L1383.8,67.48 L1384.8,67.43 L1385.3,67.41"/>
</g>
<g stroke="#CACACA" stroke-width="1.6" fill="none" stroke-linejoin="round">
<path d="M152.00,470.00 L159.80,470.00 L159.80,791.70"/>
<path d="M152.00,721.12 L159.80,721.12"/>
<path d="M152.00,658.34 L159.80,658.34"/>
<path d="M152.00,595.56 L159.80,595.56"/>
<path d="M152.00,532.78 L159.80,532.78"/>
<path d="M152.00,783.90 L671.80,783.90"/>
<path d="M159.80,791.70 L159.80,783.90 L159.80,783.90"/>
<path d="M287.80,783.90 L287.80,791.70"/>
<path d="M415.80,783.90 L415.80,791.70"/>
<path d="M543.80,783.90 L543.80,791.70"/>
<path d="M671.80,783.90 L671.80,791.70"/>
<path d="M671.79,783.90 L671.80,783.90 L671.80,791.70"/>
</g>
<g font-size="26.3" fill="#000" text-anchor="end">
<text x="137.20" y="792.50">0</text>
<text x="137.20" y="729.72">100</text>
<text x="137.20" y="666.94">200</text>
<text x="137.20" y="604.16">300</text>
<text x="137.20" y="541.38">400</text>
<text x="137.20" y="478.60">500</text>
</g>
<g font-size="26.3" fill="#000" text-anchor="middle">
<text x="159.80" y="823.90">20</text>
<text x="287.80" y="823.90">40</text>
<text x="415.80" y="823.90">60</text>
<text x="543.80" y="823.90">80</text>
<text x="671.80" y="823.90">100</text>
</g>
<text x="415.80" y="862.40" font-size="29.7" font-weight="bold" text-anchor="middle">Age (Years)</text>
<g clip-path="url(#clipC)" fill="none" stroke-width="7.8" stroke-linejoin="round" stroke-linecap="butt">
<path stroke="#000" d="M159.8,783.00 L160.8,783.00 L161.8,783.00 L162.8,783.00 L163.8,783.00 L164.8,783.00 L165.8,783.00 L166.8,783.00 L167.8,783.00 L168.8,783.00 L169.8,783.00 L170.8,783.00 L171.8,783.00 L172.8,783.00 L173.8,783.00 L174.8,783.00 L175.8,783.00 L176.8,783.00 L177.8,783.00 L178.8,783.00 L179.8,783.00 L180.8,783.00 L181.8,783.00 L182.8,783.00 L183.8,783.00 L184.8,783.00 L185.8,783.00 L186.8,783.00 L187.8,783.00 L188.8,783.00 L189.8,783.00 L190.8,783.00 L191.8,783.00 L192.8,783.00 L193.8,783.00 L194.8,783.00 L195.8,783.00 L196.8,783.00 L197.8,783.00 L198.8,783.00 L199.8,783.00 L200.8,783.00 L201.8,783.00 L202.8,783.00 L203.8,783.00 L204.8,783.00 L205.8,783.00 L206.8,783.00 L207.8,783.00 L208.8,783.00 L209.8,783.00 L210.8,783.00 L211.8,783.00 L212.8,783.00 L213.8,783.00 L214.8,783.00 L215.8,783.00 L216.8,783.00 L217.8,783.00 L218.8,783.00 L219.8,783.00 L220.8,783.00 L221.8,783.00 L222.8,783.00 L223.8,783.00 L224.8,783.00 L225.8,783.00 L226.8,783.00 L227.8,783.00 L228.8,783.00 L229.8,783.00 L230.8,783.00 L231.8,783.00 L232.8,783.00 L233.8,783.00 L234.8,783.00 L235.8,783.00 L236.8,783.00 L237.8,783.00 L238.8,783.00 L239.8,783.00 L240.8,783.00 L241.8,783.00 L242.8,783.00 L243.8,783.00 L244.8,783.00 L245.8,783.00 L246.8,783.00 L247.8,783.00 L248.8,783.00 L249.8,783.00 L250.8,783.00 L251.8,783.00 L252.8,783.00 L253.8,783.00 L254.8,783.00 L255.8,783.00 L256.8,783.00 L257.8,783.00 L258.8,783.00 L259.8,783.00 L260.8,783.00 L261.8,783.00 L262.8,783.00 L263.8,783.00 L264.8,783.00 L265.8,783.00 L266.8,783.00 L267.8,783.00 L268.8,783.00 L269.8,783.00 L270.8,783.00 L271.8,783.00 L272.8,783.00 L273.8,783.00 L274.8,782.99 L275.8,782.99 L276.8,782.99 L277.8,782.99 L278.8,782.99 L279.8,782.99 L280.8,782.99 L281.8,782.99 L282.8,782.99 L283.8,782.99 L284.8,782.99 L285.8,782.99 L286.8,782.99 L287.8,782.99 L288.8,782.99 L289.8,782.99 L290.8,782.99 L291.8,782.98 L292.8,782.98 L293.8,782.98 L294.8,782.98 L295.8,782.98 L296.8,782.98 L297.8,782.98 L298.8,782.98 L299.8,782.98 L300.8,782.98 L301.8,782.97 L302.8,782.97 L303.8,782.97 L304.8,782.97 L305.8,782.97 L306.8,782.97 L307.8,782.97 L308.8,782.96 L309.8,782.96 L310.8,782.96 L311.8,782.96 L312.8,782.96 L313.8,782.95 L314.8,782.95 L315.8,782.95 L316.8,782.95 L317.8,782.95 L318.8,782.94 L319.8,782.94 L320.8,782.94 L321.8,782.94 L322.8,782.93 L323.8,782.93 L324.8,782.93 L325.8,782.93 L326.8,782.93 L327.8,782.92 L328.8,782.92 L329.8,782.92 L330.8,782.91 L331.8,782.91 L332.8,782.91 L333.8,782.91 L334.8,782.90 L335.8,782.90 L336.8,782.90 L337.8,782.89 L338.8,782.89 L339.8,782.89 L340.8,782.89 L341.8,782.88 L342.8,782.88 L343.8,782.88 L344.8,782.87 L345.8,782.87 L346.8,782.87 L347.8,782.86 L348.8,782.86 L349.8,782.86 L350.8,782.85 L351.8,782.85 L352.8,782.85 L353.8,782.84 L354.8,782.84 L355.8,782.84 L356.8,782.83 L357.8,782.83 L358.8,782.82 L359.8,782.82 L360.8,782.81 L361.8,782.81 L362.8,782.80 L363.8,782.80 L364.8,782.79 L365.8,782.79 L366.8,782.78 L367.8,782.77 L368.8,782.77 L369.8,782.76 L370.8,782.75 L371.8,782.74 L372.8,782.73 L373.8,782.72 L374.8,782.71 L375.8,782.69 L376.8,782.68 L377.8,782.66 L378.8,782.64 L379.8,782.62 L380.8,782.60 L381.8,782.58 L382.8,782.55 L383.8,782.52 L384.8,782.49 L385.8,782.46 L386.8,782.42 L387.8,782.37 L388.8,782.33 L389.8,782.28 L390.8,782.22 L391.8,782.16 L392.8,782.09 L393.8,782.01 L394.8,781.93 L395.8,781.83 L396.8,781.73 L397.8,781.62 L398.8,781.50 L399.8,781.37 L400.8,781.22 L401.8,781.06 L402.8,780.89 L403.8,780.70 L404.8,780.49 L405.8,780.26 L406.8,780.02 L407.8,779.75 L408.8,779.46 L409.8,779.14 L410.8,778.80 L411.8,778.43 L412.8,778.03 L413.8,777.60 L414.8,777.13 L415.8,776.63 L416.8,776.09 L417.8,775.51 L418.8,774.89 L419.8,774.23 L420.8,773.52 L421.8,772.76 L422.8,771.95 L423.8,771.09 L424.8,770.18 L425.8,769.21 L426.8,768.19 L427.8,767.11 L428.8,765.96 L429.8,764.76 L430.8,763.49 L431.8,762.16 L432.8,760.76 L433.8,759.30 L434.9,757.78 L435.9,756.19 L436.9,754.54 L437.9,752.82 L438.9,751.04 L439.9,749.19 L440.9,747.28 L441.9,745.31 L442.9,743.28 L443.9,741.20 L444.9,739.06 L445.9,736.86 L446.9,734.61 L447.9,732.32 L448.9,729.97 L449.9,727.59 L450.9,725.16 L451.8,722.70 L452.8,720.20 L453.8,717.67 L454.8,715.11 L455.8,712.53 L456.8,709.92 L457.8,707.30 L458.7,704.66 L459.7,702.01 L460.7,699.35 L461.7,696.68 L462.7,694.02 L463.6,691.35 L464.6,688.69 L465.6,686.03 L466.6,683.38 L467.6,680.74 L468.6,678.12 L469.6,675.51 L470.6,672.92 L471.6,670.34 L472.6,667.79 L473.6,665.27 L474.6,662.77 L475.6,660.29 L476.6,657.84 L477.6,655.43 L478.6,653.04 L479.7,650.68 L480.7,648.35 L481.7,646.05 L482.7,643.79 L483.7,641.56 L484.7,639.36 L485.7,637.20 L486.8,635.07 L487.8,632.97 L488.8,630.91 L489.8,628.88 L490.8,626.89 L491.8,624.93 L492.8,623.00 L493.8,621.11 L494.8,619.25 L495.8,617.43 L496.8,615.64 L497.9,613.88 L498.9,612.15 L499.9,610.46 L500.9,608.79 L501.9,607.16 L502.9,605.56 L503.9,604.00 L504.9,602.46 L505.9,600.95 L506.9,599.47 L507.9,598.02 L508.9,596.60 L509.9,595.20 L510.9,593.84 L511.9,592.50 L512.9,591.19 L513.9,589.90 L514.9,588.64 L515.9,587.41 L516.9,586.20 L517.8,585.01 L518.8,583.85 L519.8,582.71 L520.8,581.59 L521.8,580.50 L522.8,579.43 L523.8,578.38 L524.8,577.35 L525.8,576.34 L526.8,575.35 L527.8,574.38 L528.8,573.43 L529.8,572.50 L530.8,571.59 L531.8,570.69 L532.8,569.82 L533.8,568.96 L534.8,568.11 L535.8,567.29 L536.8,566.47 L537.8,565.68 L538.8,564.90 L539.8,564.13 L540.8,563.38 L541.8,562.65 L542.8,561.93 L543.8,561.22 L544.8,560.52 L545.8,559.84 L546.8,559.17 L547.8,558.52 L548.8,557.87 L549.8,557.24 L550.8,556.62 L551.8,556.01 L552.8,555.41 L553.8,554.82 L554.8,554.25 L555.8,553.68 L556.8,553.12 L557.8,552.58 L558.8,552.04 L559.8,551.51 L560.8,550.99 L561.8,550.48 L562.8,549.98 L563.8,549.49 L564.8,549.01 L565.8,548.54 L566.8,548.07 L567.8,547.61 L568.8,547.16 L569.8,546.72 L570.8,546.28 L571.8,545.85 L572.8,545.43 L573.8,545.02 L574.8,544.61 L575.8,544.21 L576.8,543.82 L577.8,543.43 L578.8,543.05 L579.8,542.68 L580.8,542.31 L581.8,541.95 L582.8,541.59 L583.8,541.24 L584.8,540.90 L585.8,540.56 L586.8,540.22 L587.8,539.89 L588.8,539.57 L589.8,539.25 L590.8,538.94 L591.8,538.63 L592.8,538.33 L593.8,538.03 L594.8,537.74 L595.8,537.45 L596.8,537.17 L597.8,536.89 L598.8,536.61 L599.8,536.34 L600.8,536.08 L601.8,535.81 L602.8,535.56 L603.8,535.30 L604.8,535.05 L605.8,534.81 L606.8,534.57 L607.8,534.33 L608.8,534.09 L609.8,533.86 L610.8,533.64 L611.8,533.41 L612.8,533.19 L613.8,532.98 L614.8,532.76 L615.8,532.56 L616.8,532.35 L617.8,532.15 L618.8,531.95 L619.8,531.75 L620.8,531.55 L621.8,531.36 L622.8,531.18 L623.8,530.99 L624.8,530.81 L625.8,530.63 L626.8,530.45 L627.8,530.28 L628.8,530.11 L629.8,529.94 L630.8,529.77 L631.8,529.61 L632.8,529.44 L633.8,529.28 L634.8,529.13 L635.8,528.97 L636.8,528.82 L637.8,528.67 L638.8,528.52 L639.8,528.38 L640.8,528.23 L641.8,528.09 L642.8,527.95 L643.8,527.81 L644.8,527.67 L645.8,527.54 L646.8,527.41 L647.8,527.28 L648.8,527.15 L649.8,527.02 L650.8,526.89 L651.8,526.77 L652.8,526.65 L653.8,526.53 L654.8,526.41 L655.8,526.29 L656.8,526.17 L657.8,526.06 L658.8,525.94 L659.8,525.83 L660.8,525.72 L661.8,525.61 L662.8,525.50 L663.8,525.39 L664.8,525.29 L665.8,525.18 L666.8,525.08 L667.8,524.98 L668.8,524.88 L669.8,524.77 L670.8,524.68 L671.8,524.58 L672.6,524.50"/>
<path stroke="#2C6EBE" d="M159.8,782.60 L160.8,782.60 L161.8,782.60 L162.8,782.60 L163.8,782.60 L164.8,782.60 L165.8,782.60 L166.8,782.60 L167.8,782.60 L168.8,782.60 L169.8,782.60 L170.8,782.60 L171.8,782.60 L172.8,782.60 L173.8,782.60 L174.8,782.60 L175.8,782.60 L176.8,782.60 L177.8,782.60 L178.8,782.60 L179.8,782.60 L180.8,782.60 L181.8,782.60 L182.8,782.60 L183.8,782.60 L184.8,782.60 L185.8,782.60 L186.8,782.60 L187.8,782.60 L188.8,782.60 L189.8,782.60 L190.8,782.60 L191.8,782.60 L192.8,782.60 L193.8,782.60 L194.8,782.60 L195.8,782.60 L196.8,782.60 L197.8,782.60 L198.8,782.60 L199.8,782.60 L200.8,782.60 L201.8,782.60 L202.8,782.60 L203.8,782.60 L204.8,782.60 L205.8,782.60 L206.8,782.60 L207.8,782.60 L208.8,782.60 L209.8,782.60 L210.8,782.60 L211.8,782.60 L212.8,782.60 L213.8,782.60 L214.8,782.60 L215.8,782.60 L216.8,782.60 L217.8,782.60 L218.8,782.60 L219.8,782.60 L220.8,782.60 L221.8,782.60 L222.8,782.60 L223.8,782.60 L224.8,782.60 L225.8,782.60 L226.8,782.60 L227.8,782.60 L228.8,782.60 L229.8,782.60 L230.8,782.60 L231.8,782.60 L232.8,782.60 L233.8,782.60 L234.8,782.60 L235.8,782.60 L236.8,782.60 L237.8,782.60 L238.8,782.60 L239.8,782.60 L240.8,782.60 L241.8,782.60 L242.8,782.60 L243.8,782.60 L244.8,782.60 L245.8,782.60 L246.8,782.60 L247.8,782.60 L248.8,782.60 L249.8,782.61 L250.8,782.61 L251.8,782.61 L252.8,782.61 L253.8,782.61 L254.8,782.61 L255.8,782.61 L256.8,782.61 L257.8,782.61 L258.8,782.61 L259.8,782.61 L260.8,782.61 L261.8,782.61 L262.8,782.61 L263.8,782.61 L264.8,782.61 L265.8,782.61 L266.8,782.61 L267.8,782.61 L268.8,782.61 L269.8,782.61 L270.8,782.61 L271.8,782.61 L272.8,782.61 L273.8,782.61 L274.8,782.61 L275.8,782.61 L276.8,782.61 L277.8,782.61 L278.8,782.61 L279.8,782.61 L280.8,782.62 L281.8,782.62 L282.8,782.62 L283.8,782.62 L284.8,782.62 L285.8,782.62 L286.8,782.62 L287.8,782.62 L288.8,782.62 L289.8,782.62 L290.8,782.62 L291.8,782.62 L292.8,782.62 L293.8,782.62 L294.8,782.62 L295.8,782.62 L296.8,782.62 L297.8,782.62 L298.8,782.62 L299.8,782.62 L300.8,782.62 L301.8,782.62 L302.8,782.62 L303.8,782.62 L304.8,782.62 L305.8,782.62 L306.8,782.62 L307.8,782.61 L308.8,782.61 L309.8,782.61 L310.8,782.61 L311.8,782.61 L312.8,782.61 L313.8,782.61 L314.8,782.60 L315.8,782.60 L316.8,782.60 L317.8,782.60 L318.8,782.59 L319.8,782.59 L320.8,782.59 L321.8,782.58 L322.8,782.58 L323.8,782.57 L324.8,782.57 L325.8,782.56 L326.8,782.55 L327.8,782.55 L328.8,782.54 L329.8,782.53 L330.8,782.52 L331.8,782.51 L332.8,782.50 L333.8,782.49 L334.8,782.47 L335.8,782.46 L336.8,782.44 L337.8,782.42 L338.8,782.40 L339.8,782.38 L340.8,782.36 L341.8,782.34 L342.8,782.31 L343.8,782.28 L344.8,782.25 L345.8,782.21 L346.8,782.18 L347.8,782.14 L348.8,782.09 L349.8,782.04 L350.8,781.99 L351.8,781.93 L352.8,781.87 L353.8,781.81 L354.8,781.74 L355.8,781.66 L356.8,781.57 L357.8,781.48 L358.8,781.38 L359.8,781.28 L360.8,781.16 L361.8,781.04 L362.8,780.90 L363.8,780.76 L364.8,780.60 L365.8,780.43 L366.8,780.25 L367.8,780.05 L368.8,779.84 L369.8,779.61 L370.8,779.37 L371.8,779.10 L372.8,778.82 L373.8,778.51 L374.8,778.18 L375.8,777.83 L376.8,777.45 L377.8,777.05 L378.8,776.62 L379.8,776.15 L380.8,775.66 L381.8,775.13 L382.8,774.56 L383.8,773.96 L384.8,773.32 L385.8,772.64 L386.8,771.91 L387.8,771.14 L388.8,770.32 L389.8,769.45 L390.8,768.53 L391.8,767.56 L392.8,766.53 L393.8,765.44 L394.8,764.30 L395.8,763.09 L396.8,761.83 L397.8,760.50 L398.8,759.10 L399.8,757.64 L400.8,756.11 L401.8,754.52 L402.8,752.85 L403.8,751.12 L404.8,749.31 L405.8,747.44 L406.8,745.50 L407.8,743.49 L408.8,741.41 L409.7,739.26 L410.7,737.05 L411.7,734.78 L412.7,732.44 L413.7,730.04 L414.7,727.58 L415.7,725.07 L416.8,722.50 L417.8,719.88 L418.8,717.21 L419.8,714.50 L420.8,711.75 L421.8,708.96 L422.8,706.14 L423.8,703.28 L424.8,700.40 L425.8,697.49 L426.8,694.57 L427.8,691.63 L428.8,688.67 L429.9,685.71 L430.9,682.74 L431.9,679.77 L432.9,676.80 L433.9,673.84 L434.9,670.89 L435.9,667.94 L436.9,665.01 L437.9,662.10 L438.9,659.21 L440.0,656.33 L441.0,653.49 L442.0,650.66 L443.0,647.87 L444.0,645.10 L445.0,642.37 L446.0,639.67 L447.0,637.00 L447.9,634.37 L448.9,631.78 L449.9,629.22 L450.9,626.71 L451.9,624.23 L452.9,621.79 L453.9,619.39 L454.9,617.03 L455.9,614.72 L456.9,612.44 L457.8,610.21 L458.8,608.02 L459.8,605.86 L460.8,603.75 L461.8,601.69 L462.8,599.66 L463.8,597.67 L464.8,595.73 L465.8,593.82 L466.8,591.95 L467.8,590.12 L468.8,588.33 L469.8,586.58 L470.8,584.87 L471.8,583.19 L472.8,581.54 L473.8,579.94 L474.8,578.37 L475.8,576.83 L476.8,575.32 L477.8,573.85 L478.8,572.41 L479.8,571.00 L480.8,569.63 L481.8,568.28 L482.8,566.96 L483.8,565.67 L484.8,564.41 L485.8,563.18 L486.8,561.97 L487.8,560.79 L488.8,559.64 L489.8,558.51 L490.8,557.40 L491.8,556.32 L492.8,555.26 L493.8,554.23 L494.8,553.21 L495.8,552.22 L496.8,551.25 L497.8,550.30 L498.8,549.37 L499.8,548.46 L500.8,547.57 L501.8,546.70 L502.8,545.85 L503.8,545.01 L504.8,544.19 L505.8,543.39 L506.8,542.60 L507.8,541.83 L508.8,541.08 L509.8,540.34 L510.8,539.62 L511.8,538.91 L512.8,538.21 L513.8,537.53 L514.8,536.86 L515.8,536.21 L516.8,535.57 L517.8,534.94 L518.8,534.32 L519.8,533.71 L520.8,533.12 L521.8,532.54 L522.8,531.97 L523.8,531.41 L524.8,530.86 L525.8,530.32 L526.8,529.79 L527.8,529.27 L528.8,528.76 L529.8,528.26 L530.8,527.77 L531.8,527.29 L532.8,526.81 L533.8,526.35 L534.8,525.89 L535.8,525.45 L536.8,525.00 L537.8,524.57 L538.8,524.15 L539.8,523.73 L540.8,523.32 L541.8,522.92 L542.8,522.52 L543.8,522.13 L544.8,521.75 L545.8,521.37 L546.8,521.01 L547.8,520.64 L548.8,520.28 L549.8,519.93 L550.8,519.59 L551.8,519.25 L552.8,518.91 L553.8,518.59 L554.8,518.26 L555.8,517.95 L556.8,517.63 L557.8,517.32 L558.8,517.02 L559.8,516.72 L560.8,516.43 L561.8,516.14 L562.8,515.86 L563.8,515.58 L564.8,515.30 L565.8,515.03 L566.8,514.76 L567.8,514.50 L568.8,514.24 L569.8,513.99 L570.8,513.74 L571.8,513.49 L572.8,513.24 L573.8,513.00 L574.8,512.77 L575.8,512.53 L576.8,512.30 L577.8,512.08 L578.8,511.85 L579.8,511.63 L580.8,511.42 L581.8,511.20 L582.8,510.99 L583.8,510.79 L584.8,510.58 L585.8,510.38 L586.8,510.18 L587.8,509.98 L588.8,509.79 L589.8,509.60 L590.8,509.41 L591.8,509.23 L592.8,509.04 L593.8,508.86 L594.8,508.68 L595.8,508.51 L596.8,508.34 L597.8,508.16 L598.8,508.00 L599.8,507.83 L600.8,507.67 L601.8,507.50 L602.8,507.34 L603.8,507.19 L604.8,507.03 L605.8,506.88 L606.8,506.72 L607.8,506.58 L608.8,506.43 L609.8,506.28 L610.8,506.14 L611.8,506.00 L612.8,505.86 L613.8,505.72 L614.8,505.58 L615.8,505.45 L616.8,505.31 L617.8,505.18 L618.8,505.05 L619.8,504.92 L620.8,504.80 L621.8,504.67 L622.8,504.55 L623.8,504.43 L624.8,504.31 L625.8,504.19 L626.8,504.07 L627.8,503.96 L628.8,503.84 L629.8,503.73 L630.8,503.62 L631.8,503.51 L632.8,503.40 L633.8,503.29 L634.8,503.18 L635.8,503.08 L636.8,502.97 L637.8,502.87 L638.8,502.77 L639.8,502.67 L640.8,502.57 L641.8,502.47 L642.8,502.38 L643.8,502.28 L644.8,502.19 L645.8,502.09 L646.8,502.00 L647.8,501.91 L648.8,501.82 L649.8,501.73 L650.8,501.64 L651.8,501.55 L652.8,501.46 L653.8,501.38 L654.8,501.29 L655.8,501.21 L656.8,501.13 L657.8,501.04 L658.8,500.96 L659.8,500.88 L660.8,500.80 L661.8,500.72 L662.8,500.64 L663.8,500.57 L664.8,500.49 L665.8,500.41 L666.8,500.34 L667.8,500.27 L668.8,500.19 L669.8,500.12 L670.8,500.05 L671.8,499.97 L672.6,499.92"/>
</g>
<g stroke="#CACACA" stroke-width="1.6" fill="none" stroke-linejoin="round">
<path d="M894.40,470.50 L902.20,470.50 L902.20,791.50"/>
<path d="M894.40,721.06 L902.20,721.06"/>
<path d="M894.40,658.42 L902.20,658.42"/>
<path d="M894.40,595.78 L902.20,595.78"/>
<path d="M894.40,533.14 L902.20,533.14"/>
<path d="M894.40,783.70 L1384.50,783.70"/>
<path d="M902.20,791.50 L902.20,783.70 L902.20,783.70"/>
<path d="M1022.78,783.70 L1022.78,791.50"/>
<path d="M1143.35,783.70 L1143.35,791.50"/>
<path d="M1263.92,783.70 L1263.92,791.50"/>
<path d="M1384.50,783.70 L1384.50,791.50"/>
<path d="M1384.49,783.70 L1384.50,783.70 L1384.50,791.50"/>
</g>
<g font-size="26.3" fill="#000" text-anchor="end">
<text x="879.60" y="792.30">0</text>
<text x="879.60" y="729.66">2000</text>
<text x="879.60" y="667.02">4000</text>
<text x="879.60" y="604.38">6000</text>
<text x="879.60" y="541.74">8000</text>
<text x="879.60" y="479.10">10000</text>
</g>
<g font-size="26.3" fill="#000" text-anchor="middle">
<text x="902.20" y="823.70">20</text>
<text x="1022.78" y="823.70">40</text>
<text x="1143.35" y="823.70">60</text>
<text x="1263.92" y="823.70">80</text>
<text x="1384.50" y="823.70">100</text>
</g>
<text x="1143.35" y="862.20" font-size="29.7" font-weight="bold" text-anchor="middle">Age (Years)</text>
<g clip-path="url(#clipD)" fill="none" stroke-width="7.8" stroke-linejoin="round" stroke-linecap="butt">
<path stroke="#000" d="M902.2,782.90 L903.2,782.90 L904.2,782.90 L905.2,782.90 L906.2,782.90 L907.2,782.90 L908.2,782.90 L909.2,782.90 L910.2,782.90 L911.2,782.90 L912.2,782.90 L913.2,782.90 L914.2,782.90 L915.2,782.90 L916.2,782.90 L917.2,782.90 L918.2,782.90 L919.2,782.90 L920.2,782.90 L921.2,782.90 L922.2,782.90 L923.2,782.90 L924.2,782.90 L925.2,782.90 L926.2,782.90 L927.2,782.90 L928.2,782.90 L929.2,782.90 L930.2,782.90 L931.2,782.90 L932.2,782.90 L933.2,782.90 L934.2,782.90 L935.2,782.90 L936.2,782.90 L937.2,782.90 L938.2,782.90 L939.2,782.90 L940.2,782.90 L941.2,782.90 L942.2,782.90 L943.2,782.90 L944.2,782.90 L945.2,782.90 L946.2,782.90 L947.2,782.90 L948.2,782.90 L949.2,782.90 L950.2,782.90 L951.2,782.90 L952.2,782.90 L953.2,782.90 L954.2,782.90 L955.2,782.90 L956.2,782.90 L957.2,782.90 L958.2,782.90 L959.2,782.90 L960.2,782.90 L961.2,782.90 L962.2,782.90 L963.2,782.90 L964.2,782.90 L965.2,782.90 L966.2,782.90 L967.2,782.90 L968.2,782.90 L969.2,782.90 L970.2,782.90 L971.2,782.90 L972.2,782.90 L973.2,782.90 L974.2,782.90 L975.2,782.90 L976.2,782.90 L977.2,782.90 L978.2,782.90 L979.2,782.90 L980.2,782.90 L981.2,782.90 L982.2,782.90 L983.2,782.90 L984.2,782.90 L985.2,782.90 L986.2,782.90 L987.2,782.90 L988.2,782.90 L989.2,782.90 L990.2,782.90 L991.2,782.90 L992.2,782.90 L993.2,782.90 L994.2,782.90 L995.2,782.90 L996.2,782.89 L997.2,782.89 L998.2,782.89 L999.2,782.89 L1000.2,782.89 L1001.2,782.89 L1002.2,782.89 L1003.2,782.89 L1004.2,782.89 L1005.2,782.89 L1006.2,782.89 L1007.2,782.89 L1008.2,782.89 L1009.2,782.89 L1010.2,782.89 L1011.2,782.89 L1012.2,782.88 L1013.2,782.88 L1014.2,782.88 L1015.2,782.88 L1016.2,782.88 L1017.2,782.88 L1018.2,782.88 L1019.2,782.88 L1020.2,782.88 L1021.2,782.87 L1022.2,782.87 L1023.2,782.87 L1024.2,782.87 L1025.2,782.87 L1026.2,782.87 L1027.2,782.86 L1028.2,782.86 L1029.2,782.86 L1030.2,782.86 L1031.2,782.86 L1032.2,782.85 L1033.2,782.85 L1034.2,782.85 L1035.2,782.85 L1036.2,782.84 L1037.2,782.84 L1038.2,782.84 L1039.2,782.84 L1040.2,782.83 L1041.2,782.83 L1042.2,782.83 L1043.2,782.82 L1044.2,782.82 L1045.2,782.82 L1046.2,782.81 L1047.2,782.81 L1048.2,782.81 L1049.2,782.80 L1050.2,782.80 L1051.2,782.79 L1052.2,782.79 L1053.2,782.79 L1054.2,782.78 L1055.2,782.78 L1056.2,782.77 L1057.2,782.77 L1058.2,782.77 L1059.2,782.76 L1060.2,782.76 L1061.2,782.75 L1062.2,782.75 L1063.2,782.74 L1064.2,782.74 L1065.2,782.73 L1066.2,782.73 L1067.2,782.72 L1068.2,782.72 L1069.2,782.72 L1070.2,782.71 L1071.2,782.71 L1072.2,782.70 L1073.2,782.70 L1074.2,782.69 L1075.2,782.69 L1076.2,782.68 L1077.2,782.68 L1078.2,782.67 L1079.2,782.67 L1080.2,782.66 L1081.2,782.66 L1082.2,782.66 L1083.2,782.65 L1084.2,782.65 L1085.2,782.64 L1086.2,782.64 L1087.2,782.63 L1088.2,782.63 L1089.2,782.62 L1090.2,782.62 L1091.2,782.61 L1092.2,782.61 L1093.2,782.60 L1094.2,782.60 L1095.2,782.59 L1096.2,782.59 L1097.2,782.58 L1098.2,782.57 L1099.2,782.56 L1100.2,782.56 L1101.2,782.55 L1102.2,782.54 L1103.2,782.52 L1104.2,782.51 L1105.2,782.50 L1106.2,782.48 L1107.2,782.46 L1108.2,782.44 L1109.2,782.42 L1110.2,782.39 L1111.2,782.36 L1112.2,782.33 L1113.2,782.29 L1114.2,782.25 L1115.2,782.20 L1116.2,782.15 L1117.2,782.09 L1118.2,782.03 L1119.2,781.96 L1120.2,781.88 L1121.2,781.79 L1122.2,781.69 L1123.2,781.57 L1124.2,781.45 L1125.2,781.32 L1126.2,781.17 L1127.2,781.00 L1128.2,780.82 L1129.2,780.62 L1130.2,780.40 L1131.2,780.16 L1132.2,779.90 L1133.1,779.62 L1134.1,779.31 L1135.1,778.97 L1136.1,778.61 L1137.1,778.21 L1138.1,777.79 L1139.1,777.33 L1140.1,776.83 L1141.1,776.30 L1142.1,775.73 L1143.1,775.11 L1144.1,774.46 L1145.2,773.76 L1146.2,773.01 L1147.2,772.22 L1148.2,771.37 L1149.2,770.48 L1150.2,769.53 L1151.2,768.52 L1152.2,767.47 L1153.2,766.35 L1154.2,765.18 L1155.2,763.94 L1156.2,762.65 L1157.2,761.29 L1158.2,759.88 L1159.2,758.40 L1160.3,756.85 L1161.3,755.25 L1162.3,753.58 L1163.3,751.85 L1164.3,750.06 L1165.3,748.20 L1166.3,746.28 L1167.3,744.31 L1168.3,742.27 L1169.3,740.17 L1170.3,738.02 L1171.3,735.80 L1172.3,733.54 L1173.3,731.22 L1174.3,728.85 L1175.3,726.43 L1176.3,723.96 L1177.3,721.45 L1178.3,718.89 L1179.3,716.30 L1180.2,713.66 L1181.2,710.99 L1182.2,708.29 L1183.2,705.56 L1184.2,702.79 L1185.2,700.01 L1186.1,697.20 L1187.1,694.37 L1188.1,691.52 L1189.1,688.66 L1190.1,685.79 L1191.0,682.91 L1192.0,680.02 L1193.0,677.13 L1194.0,674.23 L1195.0,671.34 L1195.9,668.45 L1196.9,665.57 L1197.9,662.69 L1198.9,659.83 L1199.9,656.98 L1200.9,654.14 L1201.9,651.31 L1202.9,648.51 L1203.9,645.73 L1204.9,642.96 L1205.9,640.22 L1206.9,637.51 L1207.9,634.82 L1208.9,632.15 L1209.9,629.52 L1210.9,626.91 L1211.9,624.34 L1213.0,621.79 L1214.0,619.28 L1215.0,616.80 L1216.0,614.35 L1217.1,611.94 L1218.1,609.56 L1219.1,607.21 L1220.2,604.90 L1221.2,602.62 L1222.2,600.38 L1223.3,598.17 L1224.3,596.00 L1225.3,593.86 L1226.3,591.76 L1227.4,589.69 L1228.4,587.66 L1229.4,585.66 L1230.4,583.69 L1231.5,581.76 L1232.5,579.86 L1233.5,578.00 L1234.5,576.16 L1235.5,574.36 L1236.5,572.60 L1237.5,570.86 L1238.5,569.16 L1239.5,567.48 L1240.5,565.84 L1241.5,564.23 L1242.5,562.64 L1243.5,561.09 L1244.5,559.56 L1245.5,558.07 L1246.5,556.60 L1247.5,555.16 L1248.5,553.75 L1249.5,552.36 L1250.5,551.00 L1251.5,549.67 L1252.4,548.36 L1253.4,547.08 L1254.4,545.82 L1255.4,544.59 L1256.4,543.38 L1257.4,542.19 L1258.4,541.03 L1259.3,539.89 L1260.3,538.78 L1261.3,537.68 L1262.3,536.61 L1263.3,535.56 L1264.3,534.52 L1265.3,533.51 L1266.3,532.52 L1267.2,531.55 L1268.2,530.60 L1269.2,529.67 L1270.2,528.76 L1271.2,527.86 L1272.2,526.98 L1273.2,526.12 L1274.2,525.28 L1275.2,524.45 L1276.2,523.64 L1277.2,522.85 L1278.2,522.07 L1279.1,521.31 L1280.1,520.57 L1281.1,519.83 L1282.1,519.12 L1283.1,518.42 L1284.1,517.73 L1285.1,517.05 L1286.1,516.39 L1287.1,515.74 L1288.1,515.11 L1289.1,514.49 L1290.1,513.88 L1291.1,513.28 L1292.1,512.70 L1293.1,512.12 L1294.1,511.56 L1295.1,511.01 L1296.1,510.47 L1297.1,509.94 L1298.1,509.42 L1299.1,508.91 L1300.1,508.41 L1301.1,507.92 L1302.1,507.44 L1303.1,506.96 L1304.1,506.50 L1305.1,506.05 L1306.1,505.61 L1307.1,505.17 L1308.1,504.74 L1309.1,504.32 L1310.1,503.91 L1311.1,503.51 L1312.1,503.11 L1313.1,502.72 L1314.1,502.34 L1315.1,501.97 L1316.1,501.60 L1317.1,501.24 L1318.1,500.89 L1319.2,500.54 L1320.2,500.20 L1321.2,499.86 L1322.2,499.53 L1323.2,499.21 L1324.2,498.90 L1325.2,498.58 L1326.2,498.28 L1327.2,497.98 L1328.2,497.68 L1329.2,497.40 L1330.2,497.11 L1331.2,496.83 L1332.2,496.56 L1333.2,496.29 L1334.2,496.02 L1335.2,495.76 L1336.2,495.51 L1337.2,495.26 L1338.2,495.01 L1339.2,494.77 L1340.2,494.53 L1341.2,494.30 L1342.2,494.07 L1343.2,493.84 L1344.2,493.62 L1345.2,493.40 L1346.2,493.18 L1347.2,492.97 L1348.2,492.76 L1349.2,492.56 L1350.2,492.36 L1351.2,492.16 L1352.2,491.96 L1353.2,491.77 L1354.2,491.59 L1355.2,491.40 L1356.2,491.22 L1357.2,491.04 L1358.2,490.86 L1359.2,490.69 L1360.2,490.52 L1361.2,490.35 L1362.2,490.19 L1363.2,490.02 L1364.2,489.86 L1365.2,489.71 L1366.2,489.55 L1367.2,489.40 L1368.2,489.25 L1369.2,489.10 L1370.2,488.95 L1371.2,488.81 L1372.2,488.67 L1373.2,488.53 L1374.2,488.39 L1375.2,488.26 L1376.2,488.13 L1377.2,488.00 L1378.2,487.87 L1379.2,487.74 L1380.2,487.61 L1381.2,487.49 L1382.2,487.37 L1383.2,487.25 L1384.2,487.13 L1385.2,487.02 L1385.3,487.00"/>
<path stroke="#2C6EBE" d="M902.2,782.50 L903.2,782.50 L904.2,782.50 L905.2,782.50 L906.2,782.50 L907.2,782.50 L908.2,782.50 L909.2,782.50 L910.2,782.50 L911.2,782.50 L912.2,782.50 L913.2,782.50 L914.2,782.50 L915.2,782.50 L916.2,782.50 L917.2,782.50 L918.2,782.50 L919.2,782.50 L920.2,782.50 L921.2,782.50 L922.2,782.50 L923.2,782.50 L924.2,782.50 L925.2,782.50 L926.2,782.50 L927.2,782.50 L928.2,782.50 L929.2,782.50 L930.2,782.50 L931.2,782.50 L932.2,782.50 L933.2,782.50 L934.2,782.50 L935.2,782.50 L936.2,782.50 L937.2,782.50 L938.2,782.50 L939.2,782.50 L940.2,782.50 L941.2,782.50 L942.2,782.50 L943.2,782.50 L944.2,782.50 L945.2,782.50 L946.2,782.50 L947.2,782.50 L948.2,782.50 L949.2,782.50 L950.2,782.50 L951.2,782.50 L952.2,782.50 L953.2,782.50 L954.2,782.50 L955.2,782.50 L956.2,782.50 L957.2,782.50 L958.2,782.50 L959.2,782.50 L960.2,782.49 L961.2,782.49 L962.2,782.49 L963.2,782.49 L964.2,782.49 L965.2,782.49 L966.2,782.49 L967.2,782.49 L968.2,782.49 L969.2,782.49 L970.2,782.49 L971.2,782.49 L972.2,782.49 L973.2,782.49 L974.2,782.49 L975.2,782.49 L976.2,782.49 L977.2,782.48 L978.2,782.48 L979.2,782.48 L980.2,782.48 L981.2,782.48 L982.2,782.48 L983.2,782.48 L984.2,782.48 L985.2,782.48 L986.2,782.47 L987.2,782.47 L988.2,782.47 L989.2,782.47 L990.2,782.47 L991.2,782.47 L992.2,782.46 L993.2,782.46 L994.2,782.46 L995.2,782.46 L996.2,782.46 L997.2,782.45 L998.2,782.45 L999.2,782.45 L1000.2,782.45 L1001.2,782.45 L1002.2,782.44 L1003.2,782.44 L1004.2,782.44 L1005.2,782.44 L1006.2,782.43 L1007.2,782.43 L1008.2,782.43 L1009.2,782.43 L1010.2,782.42 L1011.2,782.42 L1012.2,782.42 L1013.2,782.41 L1014.2,782.41 L1015.2,782.41 L1016.2,782.40 L1017.2,782.40 L1018.2,782.40 L1019.2,782.39 L1020.2,782.39 L1021.2,782.39 L1022.2,782.38 L1023.2,782.38 L1024.2,782.38 L1025.2,782.37 L1026.2,782.37 L1027.2,782.37 L1028.2,782.36 L1029.2,782.36 L1030.2,782.36 L1031.2,782.35 L1032.2,782.35 L1033.2,782.35 L1034.2,782.34 L1035.2,782.34 L1036.2,782.33 L1037.2,782.33 L1038.2,782.33 L1039.2,782.32 L1040.2,782.32 L1041.2,782.32 L1042.2,782.31 L1043.2,782.31 L1044.2,782.31 L1045.2,782.30 L1046.2,782.30 L1047.2,782.30 L1048.2,782.29 L1049.2,782.29 L1050.2,782.29 L1051.2,782.28 L1052.2,782.28 L1053.2,782.28 L1054.2,782.27 L1055.2,782.27 L1056.2,782.26 L1057.2,782.26 L1058.2,782.26 L1059.2,782.25 L1060.2,782.25 L1061.2,782.24 L1062.2,782.24 L1063.2,782.23 L1064.2,782.23 L1065.2,782.22 L1066.2,782.22 L1067.2,782.21 L1068.2,782.20 L1069.2,782.19 L1070.2,782.18 L1071.2,782.17 L1072.2,782.15 L1073.2,782.14 L1074.2,782.12 L1075.2,782.10 L1076.2,782.08 L1077.2,782.06 L1078.2,782.03 L1079.2,782.00 L1080.2,781.97 L1081.2,781.93 L1082.2,781.89 L1083.2,781.84 L1084.2,781.79 L1085.2,781.73 L1086.2,781.66 L1087.2,781.58 L1088.2,781.50 L1089.2,781.41 L1090.2,781.31 L1091.2,781.20 L1092.2,781.07 L1093.2,780.93 L1094.2,780.78 L1095.2,780.62 L1096.2,780.44 L1097.2,780.24 L1098.2,780.02 L1099.2,779.78 L1100.2,779.52 L1101.1,779.24 L1102.1,778.94 L1103.1,778.60 L1104.1,778.24 L1105.1,777.86 L1106.1,777.44 L1107.1,776.99 L1108.1,776.50 L1109.1,775.98 L1110.1,775.43 L1111.1,774.83 L1112.1,774.19 L1113.1,773.51 L1114.1,772.78 L1115.1,772.01 L1116.1,771.19 L1117.1,770.32 L1118.1,769.40 L1119.2,768.43 L1120.2,767.40 L1121.2,766.31 L1122.2,765.17 L1123.2,763.97 L1124.2,762.71 L1125.2,761.39 L1126.2,760.01 L1127.2,758.56 L1128.2,757.06 L1129.2,755.48 L1130.2,753.85 L1131.2,752.15 L1132.2,750.38 L1133.2,748.55 L1134.2,746.66 L1135.2,744.70 L1136.2,742.68 L1137.3,740.60 L1138.3,738.45 L1139.3,736.24 L1140.3,733.98 L1141.3,731.65 L1142.3,729.27 L1143.3,726.84 L1144.2,724.35 L1145.2,721.81 L1146.2,719.22 L1147.2,716.58 L1148.2,713.90 L1149.2,711.18 L1150.2,708.42 L1151.2,705.62 L1152.2,702.79 L1153.1,699.92 L1154.1,697.03 L1155.1,694.11 L1156.1,691.17 L1157.1,688.21 L1158.0,685.23 L1159.0,682.24 L1160.0,679.24 L1161.0,676.23 L1162.0,673.22 L1163.0,670.20 L1163.9,667.18 L1164.9,664.17 L1165.9,661.17 L1166.9,658.17 L1167.9,655.18 L1169.0,652.21 L1170.0,649.25 L1171.0,646.32 L1172.0,643.40 L1173.0,640.50 L1174.0,637.63 L1175.1,634.78 L1176.1,631.96 L1177.1,629.16 L1178.2,626.40 L1179.2,623.67 L1180.2,620.96 L1181.3,618.29 L1182.3,615.66 L1183.3,613.06 L1184.3,610.49 L1185.4,607.96 L1186.4,605.46 L1187.4,603.00 L1188.4,600.58 L1189.4,598.19 L1190.4,595.85 L1191.4,593.54 L1192.4,591.27 L1193.4,589.03 L1194.4,586.84 L1195.4,584.68 L1196.4,582.56 L1197.4,580.48 L1198.4,578.44 L1199.4,576.43 L1200.4,574.47 L1201.4,572.54 L1202.4,570.64 L1203.4,568.79 L1204.4,566.97 L1205.4,565.18 L1206.3,563.44 L1207.3,561.72 L1208.3,560.05 L1209.3,558.41 L1210.3,556.80 L1211.3,555.22 L1212.3,553.68 L1213.2,552.17 L1214.2,550.70 L1215.2,549.25 L1216.2,547.84 L1217.2,546.46 L1218.2,545.11 L1219.2,543.78 L1220.2,542.49 L1221.2,541.23 L1222.2,539.99 L1223.2,538.78 L1224.2,537.60 L1225.1,536.45 L1226.1,535.32 L1227.1,534.21 L1228.1,533.14 L1229.1,532.08 L1230.1,531.05 L1231.1,530.04 L1232.1,529.06 L1233.1,528.10 L1234.1,527.16 L1235.1,526.24 L1236.1,525.35 L1237.1,524.47 L1238.1,523.61 L1239.1,522.78 L1240.1,521.96 L1241.1,521.16 L1242.1,520.38 L1243.1,519.61 L1244.1,518.87 L1245.1,518.14 L1246.2,517.43 L1247.2,516.73 L1248.2,516.05 L1249.2,515.39 L1250.2,514.74 L1251.2,514.10 L1252.2,513.48 L1253.2,512.87 L1254.2,512.28 L1255.2,511.70 L1256.2,511.13 L1257.2,510.58 L1258.2,510.03 L1259.2,509.50 L1260.2,508.98 L1261.2,508.48 L1262.2,507.98 L1263.2,507.50 L1264.2,507.02 L1265.2,506.56 L1266.2,506.10 L1267.2,505.66 L1268.2,505.22 L1269.2,504.80 L1270.2,504.38 L1271.2,503.97 L1272.2,503.57 L1273.2,503.18 L1274.2,502.80 L1275.2,502.43 L1276.2,502.06 L1277.2,501.70 L1278.2,501.35 L1279.2,501.00 L1280.2,500.67 L1281.2,500.34 L1282.2,500.01 L1283.2,499.70 L1284.2,499.39 L1285.2,499.08 L1286.2,498.78 L1287.2,498.49 L1288.2,498.20 L1289.2,497.92 L1290.2,497.65 L1291.2,497.38 L1292.2,497.11 L1293.2,496.85 L1294.2,496.60 L1295.2,496.35 L1296.2,496.10 L1297.2,495.86 L1298.2,495.63 L1299.2,495.39 L1300.2,495.17 L1301.2,494.94 L1302.2,494.72 L1303.2,494.51 L1304.2,494.30 L1305.2,494.09 L1306.2,493.89 L1307.2,493.69 L1308.2,493.49 L1309.2,493.30 L1310.2,493.11 L1311.2,492.92 L1312.2,492.74 L1313.2,492.56 L1314.2,492.39 L1315.2,492.21 L1316.2,492.04 L1317.2,491.88 L1318.2,491.71 L1319.2,491.55 L1320.2,491.39 L1321.2,491.23 L1322.2,491.08 L1323.2,490.93 L1324.2,490.78 L1325.2,490.64 L1326.2,490.49 L1327.2,490.35 L1328.2,490.21 L1329.2,490.08 L1330.2,489.94 L1331.2,489.81 L1332.2,489.68 L1333.2,489.55 L1334.2,489.43 L1335.2,489.31 L1336.2,489.18 L1337.2,489.07 L1338.2,488.95 L1339.2,488.83 L1340.2,488.72 L1341.2,488.61 L1342.2,488.50 L1343.2,488.39 L1344.2,488.28 L1345.2,488.18 L1346.2,488.07 L1347.2,487.97 L1348.2,487.87 L1349.2,487.78 L1350.2,487.68 L1351.2,487.58 L1352.2,487.49 L1353.2,487.40 L1354.2,487.31 L1355.2,487.22 L1356.2,487.13 L1357.2,487.04 L1358.2,486.96 L1359.2,486.88 L1360.2,486.79 L1361.2,486.71 L1362.2,486.63 L1363.2,486.56 L1364.2,486.48 L1365.2,486.40 L1366.2,486.33 L1367.2,486.25 L1368.2,486.18 L1369.2,486.11 L1370.2,486.04 L1371.2,485.97 L1372.2,485.90 L1373.2,485.84 L1374.2,485.77 L1375.2,485.71 L1376.2,485.64 L1377.2,485.58 L1378.2,485.52 L1379.2,485.46 L1380.2,485.40 L1381.2,485.34 L1382.2,485.28 L1383.2,485.23 L1384.2,485.17 L1385.2,485.12 L1385.3,485.11"/>
</g>
<g transform="translate(48.00,185.25) rotate(-90)" font-weight="bold" font-size="29.7" text-anchor="middle">
<text x="0" y="0">A&#946;<tspan font-size="20" font-weight="normal" dy="7">42</tspan><tspan dy="-7"> Monomer</tspan></text>
</g>
<g transform="translate(81.80,185.25) rotate(-90)" font-weight="bold" font-size="29.7" text-anchor="middle">
<text x="0" y="0">Concentration (nM)</text>
</g>
<g transform="translate(760.70,185.25) rotate(-90)" font-weight="bold" font-size="29.7" text-anchor="middle">
<text x="0" y="0">A&#946;<tspan font-size="20" font-weight="normal" dy="7">42</tspan><tspan dy="-7"> Oligomer</tspan></text>
</g>
<g transform="translate(794.90,185.25) rotate(-90)" font-weight="bold" font-size="29.7" text-anchor="middle">
<text x="0" y="0">Concentration (nM)</text>
</g>
<g transform="translate(48.00,626.95) rotate(-90)" font-weight="bold" font-size="29.7" text-anchor="middle">
<text x="0" y="0">A&#946;<tspan font-size="20" font-weight="normal" dy="7">42</tspan><tspan dy="-7"> Protofibril</tspan></text>
</g>
<g transform="translate(82.00,626.95) rotate(-90)" font-weight="bold" font-size="29.7" text-anchor="middle">
<text x="0" y="0">Concentration (nM)</text>
</g>
<g transform="translate(761.00,627.10) rotate(-90)" font-weight="bold" font-size="29.7" text-anchor="middle">
<text x="0" y="0">A&#946;<tspan font-size="20" font-weight="normal" dy="7">42</tspan><tspan dy="-7"> Plaque</tspan></text>
</g>
<g transform="translate(794.80,627.10) rotate(-90)" font-weight="bold" font-size="29.7" text-anchor="middle">
<text x="0" y="0">Concentration (nM)</text>
</g>
<text x="10.40" y="39.20" font-size="41.5" font-weight="bold">A</text>
<text x="724.40" y="46.40" font-size="41.5" font-weight="bold">B</text>
<text x="11.20" y="461.30" font-size="41.5" font-weight="bold">C</text>
<text x="724.20" y="468.40" font-size="41.5" font-weight="bold">D</text>
<path d="M526.10,24.60 L556.90,24.60" stroke="#000" stroke-width="8.2" stroke-linecap="round"/>
<path d="M526.10,64.00 L556.90,64.00" stroke="#2C6EBE" stroke-width="8.2" stroke-linecap="round"/>
<text x="562.10" y="33.00" font-size="26.3">APOE-</text>
<text x="562.10" y="72.00" font-size="26.3">APOE+</text>
<path d="M927.40,25.70 L958.00,25.70" stroke="#000" stroke-width="8.2" stroke-linecap="round"/>
<path d="M927.40,65.20 L958.00,65.20" stroke="#2C6EBE" stroke-width="8.2" stroke-linecap="round"/>
<text x="962.80" y="33.90" font-size="26.3">APOE-</text>
<text x="962.80" y="73.40" font-size="26.3">APOE+</text>
<path d="M196.00,475.30 L226.90,475.30" stroke="#000" stroke-width="8.2" stroke-linecap="round"/>
<path d="M196.00,514.50 L226.90,514.50" stroke="#2C6EBE" stroke-width="8.2" stroke-linecap="round"/>
<text x="231.40" y="483.50" font-size="26.3">APOE-</text>
<text x="231.40" y="523.00" font-size="26.3">APOE+</text>
<path d="M927.40,475.30 L958.00,475.30" stroke="#000" stroke-width="8.2" stroke-linecap="round"/>
<path d="M927.40,514.50 L958.00,514.50" stroke="#2C6EBE" stroke-width="8.2" stroke-linecap="round"/>
<text x="962.80" y="483.50" font-size="26.3">APOE-</text>
<text x="962.80" y="523.00" font-size="26.3">APOE+</text>
<g fill="#000">
<path d="M620.90,227.20 L625.90,227.20 L625.90,238.90 L630.70,238.90 L623.40,253.20 L616.10,238.90 L620.90,238.90 Z"/>
<path d="M623.40,279.80 L630.70,293.60 L625.90,293.60 L625.90,305.90 L620.90,305.90 L620.90,293.60 L616.10,293.60 Z"/>
<path d="M1339.00,451.30 L1344.00,451.30 L1344.00,463.80 L1348.80,463.80 L1341.50,478.10 L1334.20,463.80 L1339.00,463.80 Z"/>
<path d="M1341.50,503.80 L1348.80,518.50 L1344.00,518.50 L1344.00,530.60 L1339.00,530.60 L1339.00,518.50 L1334.20,518.50 Z"/>
<path d="M1397.30,60.50 L1404.40,74.10 L1399.60,74.10 L1399.60,85.90 L1404.40,85.90 L1397.30,99.50 L1390.20,85.90 L1395.00,85.90 L1395.00,74.10 L1390.20,74.10 Z"/>
<path d="M685.30,494.10 L692.40,507.70 L687.60,507.70 L687.60,519.50 L692.40,519.50 L685.30,534.10 L678.20,519.50 L683.00,519.50 L683.00,507.70 L678.20,507.70 Z"/>
</g>
</svg></body></html>
